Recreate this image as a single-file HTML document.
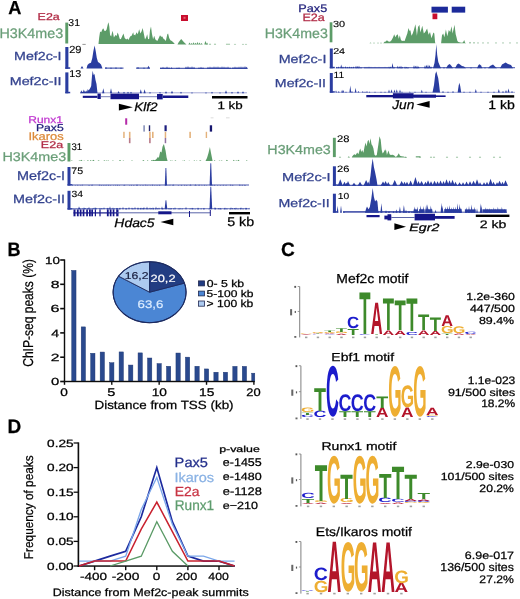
<!DOCTYPE html>
<html><head><meta charset="utf-8"><style>
html,body{margin:0;padding:0;background:#fff;width:520px;height:599px;overflow:hidden}
svg{display:block}
svg text{font-family:"Liberation Sans", sans-serif;text-rendering:geometricPrecision}
</style></head><body>
<svg width="520" height="599" viewBox="0 0 520 599">
<defs><filter id="bl" x="0" y="0" width="520" height="599" filterUnits="userSpaceOnUse"><feGaussianBlur stdDeviation="0.35"/></filter></defs>
<rect width="520" height="599" fill="#fff"/>
<g filter="url(#bl)">
<text x="8.24" y="14.00" font-size="18.84" font-weight="bold" stroke="#000" stroke-width="0.25" fill="#000" textLength="13.16" lengthAdjust="spacingAndGlyphs">A</text>
<text x="37.61" y="19.70" font-size="9.86" stroke="#b02a44" stroke-width="0.25" fill="#b02a44" textLength="22.12" lengthAdjust="spacingAndGlyphs">E2a</text>
<text x="-0.54" y="37.96" font-size="13.80" stroke="#6a9e78" stroke-width="0.25" fill="#6a9e78" textLength="63.65" lengthAdjust="spacingAndGlyphs">H3K4me3</text>
<rect x="65.30" y="22.60" width="2.90" height="20.90" fill="#5c9c68"/>
<text x="68.33" y="26.00" font-size="10.00" stroke="#000000" stroke-width="0.12" fill="#000000" textLength="11.66" lengthAdjust="spacingAndGlyphs">31</text>
<text x="14.06" y="59.78" font-size="11.70" stroke="#34438f" stroke-width="0.25" fill="#34438f" textLength="47.40" lengthAdjust="spacingAndGlyphs">Mef2c-I</text>
<text x="9.76" y="84.69" font-size="11.43" stroke="#34438f" stroke-width="0.25" fill="#34438f" textLength="51.69" lengthAdjust="spacingAndGlyphs">Mef2c-II</text>
<rect x="65.30" y="47.00" width="3.10" height="21.80" fill="#2a3ca0"/>
<rect x="65.30" y="67.30" width="4.90" height="1.50" fill="#2a3ca0"/>
<rect x="65.30" y="72.40" width="3.10" height="20.90" fill="#2a3ca0"/>
<rect x="65.30" y="91.80" width="4.90" height="1.50" fill="#2a3ca0"/>
<text x="69.15" y="52.80" font-size="10.42" stroke="#000000" stroke-width="0.12" fill="#000000" textLength="12.27" lengthAdjust="spacingAndGlyphs">29</text>
<text x="69.39" y="76.80" font-size="9.86" stroke="#000000" stroke-width="0.12" fill="#000000" textLength="11.96" lengthAdjust="spacingAndGlyphs">13</text>
<text x="298.39" y="11.89" font-size="10.86" stroke="#1c1c78" stroke-width="0.25" fill="#1c1c78" textLength="28.81" lengthAdjust="spacingAndGlyphs">Pax5</text>
<text x="302.40" y="21.09" font-size="10.70" stroke="#b02a44" stroke-width="0.25" fill="#b02a44" textLength="22.33" lengthAdjust="spacingAndGlyphs">E2a</text>
<text x="264.66" y="37.86" font-size="13.66" stroke="#6a9e78" stroke-width="0.25" fill="#6a9e78" textLength="63.13" lengthAdjust="spacingAndGlyphs">H3K4me3</text>
<rect x="329.70" y="22.30" width="2.70" height="20.00" fill="#5c9c68"/>
<text x="333.02" y="26.61" font-size="8.73" stroke="#000000" stroke-width="0.12" fill="#000000" textLength="12.19" lengthAdjust="spacingAndGlyphs">30</text>
<text x="278.65" y="62.88" font-size="11.70" stroke="#34438f" stroke-width="0.25" fill="#34438f" textLength="47.72" lengthAdjust="spacingAndGlyphs">Mef2c-I</text>
<text x="274.87" y="86.68" font-size="11.56" stroke="#34438f" stroke-width="0.25" fill="#34438f" textLength="51.16" lengthAdjust="spacingAndGlyphs">Mef2c-II</text>
<rect x="329.80" y="48.50" width="3.00" height="19.80" fill="#2a3ca0"/>
<rect x="329.80" y="66.80" width="5.00" height="1.50" fill="#2a3ca0"/>
<rect x="329.80" y="73.00" width="3.00" height="19.70" fill="#2a3ca0"/>
<rect x="329.80" y="91.20" width="5.00" height="1.50" fill="#2a3ca0"/>
<text x="333.16" y="54.10" font-size="8.43" stroke="#000000" stroke-width="0.12" fill="#000000" textLength="11.93" lengthAdjust="spacingAndGlyphs">24</text>
<text x="333.53" y="78.00" font-size="9.13" stroke="#000000" stroke-width="0.12" fill="#000000" textLength="10.66" lengthAdjust="spacingAndGlyphs">11</text>
<text x="28.24" y="123.40" font-size="9.86" stroke="#c038d0" stroke-width="0.25" fill="#c038d0" textLength="34.71" lengthAdjust="spacingAndGlyphs">Runx1</text>
<text x="35.93" y="131.10" font-size="9.86" stroke="#1c1c78" stroke-width="0.25" fill="#1c1c78" textLength="27.75" lengthAdjust="spacingAndGlyphs">Pax5</text>
<text x="28.44" y="140.39" font-size="11.02" stroke="#dc8a3a" stroke-width="0.25" fill="#dc8a3a" textLength="35.19" lengthAdjust="spacingAndGlyphs">Ikaros</text>
<text x="40.80" y="147.60" font-size="9.72" stroke="#b02a44" stroke-width="0.25" fill="#b02a44" textLength="22.33" lengthAdjust="spacingAndGlyphs">E2a</text>
<text x="2.45" y="160.67" font-size="12.68" stroke="#6a9e78" stroke-width="0.25" fill="#6a9e78" textLength="63.75" lengthAdjust="spacingAndGlyphs">H3K4me3</text>
<rect x="67.50" y="143.00" width="2.90" height="18.50" fill="#5c9c68"/>
<text x="71.46" y="150.10" font-size="9.72" stroke="#000000" stroke-width="0.12" fill="#000000" textLength="10.69" lengthAdjust="spacingAndGlyphs">31</text>
<text x="16.95" y="180.47" font-size="12.65" stroke="#34438f" stroke-width="0.25" fill="#34438f" textLength="48.04" lengthAdjust="spacingAndGlyphs">Mef2c-I</text>
<text x="13.05" y="202.98" font-size="11.84" stroke="#34438f" stroke-width="0.25" fill="#34438f" textLength="51.90" lengthAdjust="spacingAndGlyphs">Mef2c-II</text>
<rect x="67.50" y="167.00" width="3.00" height="18.60" fill="#2a3ca0"/>
<rect x="67.50" y="184.10" width="4.80" height="1.50" fill="#2a3ca0"/>
<rect x="67.50" y="190.80" width="3.00" height="18.80" fill="#2a3ca0"/>
<rect x="67.50" y="208.10" width="4.80" height="1.50" fill="#2a3ca0"/>
<text x="71.27" y="173.90" font-size="9.57" stroke="#000000" stroke-width="0.12" fill="#000000" textLength="11.89" lengthAdjust="spacingAndGlyphs">75</text>
<text x="71.44" y="196.61" font-size="9.01" stroke="#000000" stroke-width="0.12" fill="#000000" textLength="11.55" lengthAdjust="spacingAndGlyphs">34</text>
<text x="267.36" y="154.07" font-size="12.96" stroke="#6a9e78" stroke-width="0.25" fill="#6a9e78" textLength="63.44" lengthAdjust="spacingAndGlyphs">H3K4me3</text>
<rect x="332.90" y="137.80" width="2.90" height="19.30" fill="#5c9c68"/>
<text x="337.14" y="142.00" font-size="9.58" stroke="#000000" stroke-width="0.12" fill="#000000" textLength="12.43" lengthAdjust="spacingAndGlyphs">28</text>
<text x="282.03" y="180.58" font-size="11.56" stroke="#34438f" stroke-width="0.25" fill="#34438f" textLength="48.67" lengthAdjust="spacingAndGlyphs">Mef2c-I</text>
<text x="278.57" y="207.08" font-size="11.56" stroke="#34438f" stroke-width="0.25" fill="#34438f" textLength="51.16" lengthAdjust="spacingAndGlyphs">Mef2c-II</text>
<rect x="332.90" y="166.30" width="3.00" height="19.50" fill="#2a3ca0"/>
<rect x="332.90" y="184.30" width="4.90" height="1.50" fill="#2a3ca0"/>
<rect x="332.90" y="193.70" width="3.00" height="19.00" fill="#2a3ca0"/>
<rect x="332.90" y="211.20" width="4.90" height="1.50" fill="#2a3ca0"/>
<text x="337.14" y="172.41" font-size="9.30" stroke="#000000" stroke-width="0.12" fill="#000000" textLength="12.43" lengthAdjust="spacingAndGlyphs">26</text>
<text x="337.83" y="198.61" font-size="8.73" stroke="#000000" stroke-width="0.12" fill="#000000" textLength="11.46" lengthAdjust="spacingAndGlyphs">10</text>
<path d="M98.5,44.0 L98.5,43.8 L99.2,37.2 L100.1,31.5 L101.2,32.2 L102.0,30.3 L102.8,28.8 L103.5,28.4 L104.3,30.7 L105.5,31.1 L106.6,29.5 L107.8,24.2 L108.5,22.2 L109.3,26.5 L110.1,34.9 L111.2,36.5 L112.4,30.7 L113.2,33.4 L113.9,37.6 L115.5,34.9 L116.6,36.1 L117.6,32.6 L118.5,34.5 L119.7,38.8 L120.8,39.2 L122.4,35.7 L123.5,33.4 L124.7,38.0 L126.2,39.5 L127.4,38.4 L128.5,39.9 L130.1,36.5 L131.6,35.7 L133.2,32.2 L133.9,35.3 L135.5,34.5 L135.0,36.5 L136.5,32.2 L137.7,34.2 L139.2,29.2 L140.4,33.4 L141.5,31.5 L142.7,28.0 L143.8,33.4 L145.0,39.5 L146.2,37.2 L147.2,34.2 L148.1,39.2 L149.2,38.8 L150.0,30.3 L151.0,26.5 L151.9,33.4 L153.1,39.2 L154.2,35.7 L155.4,39.5 L157.3,41.1 L158.8,38.0 L160.0,35.3 L161.2,36.8 L162.3,36.5 L163.5,38.8 L164.6,39.5 L165.8,41.1 L167.3,34.2 L168.1,33.4 L169.2,38.0 L170.4,40.3 L171.9,41.1 L173.5,42.6 L174.6,43.8 L174.6,44.0 Z" fill="#5c9c68"/>
<path d="M177.5,44.6 L177.5,44.6 L178.5,42.5 L180.0,40.5 L181.2,39.0 L182.5,40.5 L184.0,42.3 L186.5,44.6 L186.5,44.6 Z" fill="#5c9c68"/>
<path d="M188.3,44.6 L189.5,42.6 L190.7,44.6 Z" fill="#5c9c68"/><path d="M190.3,44.6 L191.5,43.0 L192.7,44.6 Z" fill="#5c9c68"/><path d="M192.3,44.6 L193.5,42.3 L194.7,44.6 Z" fill="#5c9c68"/><path d="M194.3,44.6 L195.5,42.8 L196.7,44.6 Z" fill="#5c9c68"/><path d="M196.3,44.6 L197.5,42.1 L198.7,44.6 Z" fill="#5c9c68"/><path d="M198.3,44.6 L199.5,42.6 L200.7,44.6 Z" fill="#5c9c68"/><path d="M200.3,44.6 L201.5,43.1 L202.7,44.6 Z" fill="#5c9c68"/><path d="M204.3,44.6 L205.5,40.8 L206.7,44.6 Z" fill="#5c9c68"/><path d="M205.8,44.6 L207.0,42.6 L208.2,44.6 Z" fill="#5c9c68"/><path d="M208.8,44.6 L210.0,43.4 L211.2,44.6 Z" fill="#5c9c68"/><path d="M213.8,44.6 L215.0,43.4 L216.2,44.6 Z" fill="#5c9c68"/><path d="M225.8,44.6 L227.0,43.6 L228.2,44.6 Z" fill="#5c9c68"/><path d="M227.8,44.6 L229.0,43.6 L230.2,44.6 Z" fill="#5c9c68"/><path d="M233.8,44.6 L235.0,43.8 L236.2,44.6 Z" fill="#5c9c68"/><path d="M241.8,44.6 L243.0,43.7 L244.2,44.6 Z" fill="#5c9c68"/><path d="M244.8,44.6 L246.0,43.7 L247.2,44.6 Z" fill="#5c9c68"/>
<path d="M80.5,68.6 L82.0,66.1 L83.5,68.6 Z" fill="#2a3ca0"/>
<path d="M86.5,68.6 L86.5,68.6 L87.5,65.0 L89.0,63.5 L91.0,62.8 L92.3,58.0 L93.4,51.0 L94.6,45.5 L95.7,51.0 L96.8,58.0 L98.0,62.0 L99.5,63.0 L101.0,64.5 L102.5,68.6 L102.5,68.6 Z" fill="#2a3ca0"/>
<rect x="105.0" y="67.60" width="18.5" height="1.0" fill="#2a3ca0" opacity="1.0"/>
<path d="M104.8,68.6 L106.0,67.1 L107.2,68.6 Z" fill="#2a3ca0"/><path d="M109.8,68.6 L111.0,67.4 L112.2,68.6 Z" fill="#2a3ca0"/><path d="M114.8,68.6 L116.0,67.2 L117.2,68.6 Z" fill="#2a3ca0"/><path d="M119.8,68.6 L121.0,67.4 L122.2,68.6 Z" fill="#2a3ca0"/>
<rect x="136.0" y="67.60" width="14.0" height="1.0" fill="#2a3ca0" opacity="1.0"/>
<path d="M136.7,68.6 L138.0,67.1 L139.3,68.6 Z" fill="#2a3ca0"/><path d="M142.7,68.6 L144.0,67.4 L145.3,68.6 Z" fill="#2a3ca0"/><path d="M147.2,68.6 L148.5,65.8 L149.8,68.6 Z" fill="#2a3ca0"/>
<rect x="160.0" y="67.80" width="87.5" height="1.0" fill="#2a3ca0" opacity="1.0"/>
<path d="M159.9,68.8 L161.0,67.3 L162.1,68.8 Z" fill="#2a3ca0"/><path d="M161.9,68.8 L163.0,66.8 L164.1,68.8 Z" fill="#2a3ca0"/><path d="M163.9,68.8 L165.0,67.3 L166.1,68.8 Z" fill="#2a3ca0"/><path d="M165.9,68.8 L167.0,66.6 L168.1,68.8 Z" fill="#2a3ca0"/><path d="M167.9,68.8 L169.0,67.2 L170.1,68.8 Z" fill="#2a3ca0"/><path d="M170.4,68.8 L171.5,67.3 L172.6,68.8 Z" fill="#2a3ca0"/><path d="M175.9,68.8 L177.0,67.6 L178.1,68.8 Z" fill="#2a3ca0"/><path d="M177.9,68.8 L179.0,67.3 L180.1,68.8 Z" fill="#2a3ca0"/><path d="M184.9,68.8 L186.0,66.6 L187.1,68.8 Z" fill="#2a3ca0"/><path d="M186.9,68.8 L188.0,66.0 L189.1,68.8 Z" fill="#2a3ca0"/><path d="M188.9,68.8 L190.0,66.8 L191.1,68.8 Z" fill="#2a3ca0"/><path d="M190.9,68.8 L192.0,66.2 L193.1,68.8 Z" fill="#2a3ca0"/><path d="M192.9,68.8 L194.0,66.8 L195.1,68.8 Z" fill="#2a3ca0"/><path d="M197.9,68.8 L199.0,67.3 L200.1,68.8 Z" fill="#2a3ca0"/><path d="M199.9,68.8 L201.0,66.8 L202.1,68.8 Z" fill="#2a3ca0"/><path d="M201.9,68.8 L203.0,67.3 L204.1,68.8 Z" fill="#2a3ca0"/><path d="M206.9,68.8 L208.0,66.8 L209.1,68.8 Z" fill="#2a3ca0"/><path d="M208.9,68.8 L210.0,66.4 L211.1,68.8 Z" fill="#2a3ca0"/><path d="M210.9,68.8 L212.0,66.8 L213.1,68.8 Z" fill="#2a3ca0"/><path d="M212.9,68.8 L214.0,66.2 L215.1,68.8 Z" fill="#2a3ca0"/><path d="M214.9,68.8 L216.0,66.6 L217.1,68.8 Z" fill="#2a3ca0"/><path d="M216.9,68.8 L218.0,66.3 L219.1,68.8 Z" fill="#2a3ca0"/><path d="M218.9,68.8 L220.0,66.8 L221.1,68.8 Z" fill="#2a3ca0"/><path d="M220.9,68.8 L222.0,66.2 L223.1,68.8 Z" fill="#2a3ca0"/><path d="M222.9,68.8 L224.0,66.4 L225.1,68.8 Z" fill="#2a3ca0"/><path d="M224.9,68.8 L226.0,66.8 L227.1,68.8 Z" fill="#2a3ca0"/><path d="M226.9,68.8 L228.0,66.5 L229.1,68.8 Z" fill="#2a3ca0"/><path d="M228.9,68.8 L230.0,67.2 L231.1,68.8 Z" fill="#2a3ca0"/><path d="M231.9,68.8 L233.0,67.0 L234.1,68.8 Z" fill="#2a3ca0"/><path d="M233.9,68.8 L235.0,66.4 L236.1,68.8 Z" fill="#2a3ca0"/><path d="M235.9,68.8 L237.0,66.8 L238.1,68.8 Z" fill="#2a3ca0"/><path d="M237.9,68.8 L239.0,66.6 L240.1,68.8 Z" fill="#2a3ca0"/><path d="M239.9,68.8 L241.0,66.2 L242.1,68.8 Z" fill="#2a3ca0"/><path d="M241.9,68.8 L243.0,66.6 L244.1,68.8 Z" fill="#2a3ca0"/><path d="M243.9,68.8 L245.0,66.0 L246.1,68.8 Z" fill="#2a3ca0"/><path d="M245.4,68.8 L246.5,66.8 L247.6,68.8 Z" fill="#2a3ca0"/>
<path d="M80.2,93.2 L80.2,93.2 L80.8,91.5 L81.4,90.2 L82.0,91.8 L83.0,92.0 L83.8,89.6 L84.6,91.5 L85.5,91.8 L86.3,90.6 L87.0,92.0 L87.8,89.0 L88.6,90.5 L89.5,89.2 L90.3,88.0 L91.2,86.0 L92.0,76.0 L92.7,70.8 L93.6,75.0 L94.5,74.0 L95.5,80.0 L96.5,84.0 L97.5,93.2 L97.5,93.2 Z" fill="#2a3ca0"/>
<path d="M102.2,93.2 L103.3,88.2 L104.4,93.2 Z" fill="#2a3ca0"/><path d="M109.9,93.2 L111.0,88.2 L112.1,93.2 Z" fill="#2a3ca0"/><path d="M117.5,93.2 L118.6,91.0 L119.7,93.2 Z" fill="#2a3ca0"/><path d="M122.9,93.2 L124.0,91.7 L125.1,93.2 Z" fill="#2a3ca0"/><path d="M126.9,93.2 L128.0,91.7 L129.1,93.2 Z" fill="#2a3ca0"/><path d="M129.9,93.2 L131.0,91.7 L132.1,93.2 Z" fill="#2a3ca0"/><path d="M139.7,93.2 L140.8,89.2 L141.9,93.2 Z" fill="#2a3ca0"/><path d="M143.5,93.2 L144.6,89.2 L145.7,93.2 Z" fill="#2a3ca0"/><path d="M148.9,93.2 L150.0,92.0 L151.1,93.2 Z" fill="#2a3ca0"/><path d="M158.9,93.2 L160.0,92.0 L161.1,93.2 Z" fill="#2a3ca0"/><path d="M164.9,93.2 L166.0,91.2 L167.1,93.2 Z" fill="#2a3ca0"/><path d="M170.9,93.2 L172.0,90.7 L173.1,93.2 Z" fill="#2a3ca0"/><path d="M179.9,93.2 L181.0,91.7 L182.1,93.2 Z" fill="#2a3ca0"/><path d="M190.9,93.2 L192.0,92.2 L193.1,93.2 Z" fill="#2a3ca0"/><path d="M204.9,93.2 L206.0,92.2 L207.1,93.2 Z" fill="#2a3ca0"/><path d="M210.9,93.2 L212.0,91.7 L213.1,93.2 Z" fill="#2a3ca0"/><path d="M218.9,93.2 L220.0,92.2 L221.1,93.2 Z" fill="#2a3ca0"/><path d="M224.9,93.2 L226.0,90.2 L227.1,93.2 Z" fill="#2a3ca0"/><path d="M230.9,93.2 L232.0,91.7 L233.1,93.2 Z" fill="#2a3ca0"/><path d="M236.9,93.2 L238.0,91.2 L239.1,93.2 Z" fill="#2a3ca0"/><path d="M241.9,93.2 L243.0,91.2 L244.1,93.2 Z" fill="#2a3ca0"/>
<rect x="80.0" y="92.50" width="167.0" height="0.7" fill="#2a3ca0" opacity="0.6"/>
<path d="M383.1,43.3 L383.1,43.4 L384.6,41.8 L385.8,41.5 L386.9,40.3 L388.5,41.5 L390.0,41.8 L391.5,40.3 L393.1,37.2 L394.2,34.2 L395.4,37.2 L396.5,35.3 L397.7,34.2 L398.8,38.8 L399.8,35.3 L400.8,39.5 L401.9,41.1 L403.1,40.7 L404.6,41.1 L406.2,36.5 L407.3,33.4 L408.5,28.0 L409.6,31.1 L410.4,30.3 L411.5,35.7 L412.7,33.4 L413.8,30.3 L415.4,24.2 L416.2,29.5 L416.9,35.7 L418.1,26.5 L419.2,25.7 L418.0,27.6 L419.4,24.7 L420.4,32.4 L422.3,25.7 L423.8,33.4 L425.2,31.9 L427.1,28.6 L428.6,34.8 L430.0,31.9 L431.5,38.2 L433.4,32.4 L434.3,33.4 L435.1,42.5 L435.5,43.2 L435.5,43.3 Z" fill="#5c9c68"/>
<path d="M441.1,43.3 L441.1,43.2 L442.0,35.3 L443.2,33.4 L444.4,37.2 L445.9,29.5 L447.3,36.3 L448.8,30.0 L450.2,31.9 L451.5,26.2 L452.6,33.4 L454.5,24.7 L455.7,34.3 L456.5,37.2 L457.4,41.1 L458.4,42.0 L460.3,42.5 L462.2,42.8 L463.2,42.0 L464.2,40.1 L465.1,42.8 L466.1,43.2 L466.1,43.3 Z" fill="#5c9c68"/>
<path d="M369.5,43.3 L370.5,42.4 L371.5,43.3 Z" fill="#5c9c68"/><path d="M373.0,43.3 L374.0,42.4 L375.0,43.3 Z" fill="#5c9c68"/><path d="M377.0,43.3 L378.0,42.4 L379.0,43.3 Z" fill="#5c9c68"/><path d="M380.0,43.3 L381.0,42.4 L382.0,43.3 Z" fill="#5c9c68"/><path d="M469.0,43.3 L470.0,41.8 L471.0,43.3 Z" fill="#5c9c68"/><path d="M473.0,43.3 L474.0,42.1 L475.0,43.3 Z" fill="#5c9c68"/><path d="M477.0,43.3 L478.0,42.3 L479.0,43.3 Z" fill="#5c9c68"/><path d="M482.0,43.3 L483.0,42.3 L484.0,43.3 Z" fill="#5c9c68"/><path d="M487.0,43.3 L488.0,42.3 L489.0,43.3 Z" fill="#5c9c68"/><path d="M495.0,43.3 L496.0,42.3 L497.0,43.3 Z" fill="#5c9c68"/><path d="M502.0,43.3 L503.0,42.3 L504.0,43.3 Z" fill="#5c9c68"/><path d="M509.0,43.3 L510.0,42.3 L511.0,43.3 Z" fill="#5c9c68"/><path d="M516.0,43.3 L517.0,42.3 L518.0,43.3 Z" fill="#5c9c68"/>
<rect x="336.0" y="67.30" width="179.0" height="0.9" fill="#2a3ca0" opacity="1.0"/>
<path d="M335.5,68.2 L336.5,66.7 L337.5,68.2 Z" fill="#2a3ca0"/><path d="M337.5,68.2 L338.5,66.4 L339.5,68.2 Z" fill="#2a3ca0"/><path d="M340.2,68.2 L341.2,64.4 L342.2,68.2 Z" fill="#2a3ca0"/><path d="M342.0,68.2 L343.0,66.4 L344.0,68.2 Z" fill="#2a3ca0"/><path d="M344.5,68.2 L345.5,66.2 L346.5,68.2 Z" fill="#2a3ca0"/><path d="M346.5,68.2 L347.5,66.7 L348.5,68.2 Z" fill="#2a3ca0"/><path d="M348.5,68.2 L349.5,66.4 L350.5,68.2 Z" fill="#2a3ca0"/><path d="M350.5,68.2 L351.5,66.7 L352.5,68.2 Z" fill="#2a3ca0"/><path d="M352.5,68.2 L353.5,66.6 L354.5,68.2 Z" fill="#2a3ca0"/><path d="M355.0,68.2 L356.0,65.7 L357.0,68.2 Z" fill="#2a3ca0"/><path d="M356.5,68.2 L357.5,66.0 L358.5,68.2 Z" fill="#2a3ca0"/><path d="M358.0,68.2 L359.0,65.7 L360.0,68.2 Z" fill="#2a3ca0"/><path d="M360.0,68.2 L361.0,67.0 L362.0,68.2 Z" fill="#2a3ca0"/><path d="M364.0,68.2 L365.0,66.7 L366.0,68.2 Z" fill="#2a3ca0"/><path d="M366.0,68.2 L367.0,66.7 L368.0,68.2 Z" fill="#2a3ca0"/><path d="M368.0,68.2 L369.0,66.6 L370.0,68.2 Z" fill="#2a3ca0"/><path d="M370.0,68.2 L371.0,66.7 L372.0,68.2 Z" fill="#2a3ca0"/><path d="M372.0,68.2 L373.0,66.9 L374.0,68.2 Z" fill="#2a3ca0"/><path d="M374.0,68.2 L375.0,66.7 L376.0,68.2 Z" fill="#2a3ca0"/><path d="M376.0,68.2 L377.0,67.0 L378.0,68.2 Z" fill="#2a3ca0"/><path d="M378.0,68.2 L379.0,66.8 L380.0,68.2 Z" fill="#2a3ca0"/><path d="M380.0,68.2 L381.0,67.0 L382.0,68.2 Z" fill="#2a3ca0"/><path d="M382.0,68.2 L383.0,66.9 L384.0,68.2 Z" fill="#2a3ca0"/><path d="M384.0,68.2 L385.0,66.7 L386.0,68.2 Z" fill="#2a3ca0"/><path d="M386.0,68.2 L387.0,67.0 L388.0,68.2 Z" fill="#2a3ca0"/><path d="M388.0,68.2 L389.0,66.6 L390.0,68.2 Z" fill="#2a3ca0"/><path d="M389.5,68.2 L390.5,66.4 L391.5,68.2 Z" fill="#2a3ca0"/><path d="M391.5,68.2 L392.5,62.9 L393.5,68.2 Z" fill="#2a3ca0"/><path d="M393.0,68.2 L394.0,66.8 L395.0,68.2 Z" fill="#2a3ca0"/><path d="M396.8,68.2 L397.8,65.7 L398.8,68.2 Z" fill="#2a3ca0"/><path d="M398.5,68.2 L399.5,66.2 L400.5,68.2 Z" fill="#2a3ca0"/><path d="M400.0,68.2 L401.0,65.7 L402.0,68.2 Z" fill="#2a3ca0"/><path d="M401.3,68.2 L402.3,66.7 L403.3,68.2 Z" fill="#2a3ca0"/><path d="M404.0,68.2 L405.0,66.4 L406.0,68.2 Z" fill="#2a3ca0"/><path d="M405.5,68.2 L406.5,66.7 L407.5,68.2 Z" fill="#2a3ca0"/><path d="M407.0,68.2 L408.0,67.0 L409.0,68.2 Z" fill="#2a3ca0"/><path d="M413.0,68.2 L414.0,65.2 L415.0,68.2 Z" fill="#2a3ca0"/><path d="M414.5,68.2 L415.5,65.7 L416.5,68.2 Z" fill="#2a3ca0"/><path d="M416.0,68.2 L417.0,65.4 L418.0,68.2 Z" fill="#2a3ca0"/><path d="M417.5,68.2 L418.5,66.2 L419.5,68.2 Z" fill="#2a3ca0"/><path d="M424.0,68.2 L425.0,65.2 L426.0,68.2 Z" fill="#2a3ca0"/><path d="M425.5,68.2 L426.5,64.8 L427.5,68.2 Z" fill="#2a3ca0"/><path d="M427.0,68.2 L428.0,64.4 L429.0,68.2 Z" fill="#2a3ca0"/><path d="M428.5,68.2 L429.5,65.0 L430.5,68.2 Z" fill="#2a3ca0"/><path d="M430.0,68.2 L431.0,66.2 L432.0,68.2 Z" fill="#2a3ca0"/>
<path d="M433.0,68.2 L433.0,68.2 L434.5,63.0 L435.5,55.0 L436.3,44.2 L437.2,55.0 L438.3,62.0 L439.5,65.0 L441.0,68.2 L441.0,68.2 Z" fill="#2a3ca0"/>
<path d="M446.0,68.2 L446.0,68.2 L448.0,65.0 L449.8,64.0 L451.5,66.0 L453.0,68.2 L453.0,68.2 Z" fill="#2a3ca0"/>
<path d="M455.0,68.2 L455.0,68.2 L457.0,64.5 L458.5,63.4 L460.0,64.5 L462.0,66.0 L464.0,66.5 L466.0,68.2 L466.0,68.2 Z" fill="#2a3ca0"/>
<path d="M477.0,68.2 L477.0,68.2 L478.5,65.0 L479.6,64.3 L481.0,65.5 L482.5,68.2 L482.5,68.2 Z" fill="#2a3ca0"/>
<path d="M488.0,68.2 L488.0,68.2 L490.0,66.0 L493.0,64.5 L495.0,66.5 L497.0,68.2 L497.0,68.2 Z" fill="#2a3ca0"/>
<path d="M500.0,68.2 L500.0,68.2 L502.0,64.5 L505.6,62.5 L508.0,64.0 L511.0,65.0 L513.0,68.2 L513.0,68.2 Z" fill="#2a3ca0"/>
<path d="M443.0,68.2 L444.0,67.0 L445.0,68.2 Z" fill="#2a3ca0"/><path d="M470.0,68.2 L471.0,67.2 L472.0,68.2 Z" fill="#2a3ca0"/><path d="M484.0,68.2 L485.0,67.2 L486.0,68.2 Z" fill="#2a3ca0"/>
<path d="M335.1,92.6 L336.0,90.6 L336.9,92.6 Z" fill="#2a3ca0"/><path d="M337.9,92.6 L338.8,91.1 L339.7,92.6 Z" fill="#2a3ca0"/><path d="M341.2,92.6 L342.1,89.7 L343.0,92.6 Z" fill="#2a3ca0"/><path d="M342.4,92.6 L343.3,90.1 L344.2,92.6 Z" fill="#2a3ca0"/><path d="M345.1,92.6 L346.0,91.4 L346.9,92.6 Z" fill="#2a3ca0"/><path d="M349.4,92.6 L350.3,85.4 L351.2,92.6 Z" fill="#2a3ca0"/><path d="M351.1,92.6 L352.0,91.1 L352.9,92.6 Z" fill="#2a3ca0"/><path d="M354.7,92.6 L355.6,87.8 L356.5,92.6 Z" fill="#2a3ca0"/><path d="M357.6,92.6 L358.5,91.1 L359.4,92.6 Z" fill="#2a3ca0"/><path d="M361.9,92.6 L362.8,91.1 L363.7,92.6 Z" fill="#2a3ca0"/><path d="M364.1,92.6 L365.0,91.4 L365.9,92.6 Z" fill="#2a3ca0"/><path d="M366.1,92.6 L367.0,91.1 L367.9,92.6 Z" fill="#2a3ca0"/><path d="M368.6,92.6 L369.5,91.4 L370.4,92.6 Z" fill="#2a3ca0"/><path d="M374.1,92.6 L375.0,91.6 L375.9,92.6 Z" fill="#2a3ca0"/><path d="M380.1,92.6 L381.0,91.6 L381.9,92.6 Z" fill="#2a3ca0"/><path d="M384.1,92.6 L385.0,91.4 L385.9,92.6 Z" fill="#2a3ca0"/><path d="M388.1,92.6 L389.0,89.6 L389.9,92.6 Z" fill="#2a3ca0"/><path d="M390.6,92.6 L391.5,89.3 L392.4,92.6 Z" fill="#2a3ca0"/><path d="M393.6,92.6 L394.5,89.6 L395.4,92.6 Z" fill="#2a3ca0"/><path d="M395.9,92.6 L396.8,89.3 L397.7,92.6 Z" fill="#2a3ca0"/><path d="M399.1,92.6 L400.0,89.6 L400.9,92.6 Z" fill="#2a3ca0"/><path d="M401.1,92.6 L402.0,91.4 L402.9,92.6 Z" fill="#2a3ca0"/><path d="M408.9,92.6 L409.8,91.4 L410.7,92.6 Z" fill="#2a3ca0"/><path d="M414.1,92.6 L415.0,91.6 L415.9,92.6 Z" fill="#2a3ca0"/><path d="M420.9,92.6 L421.8,89.7 L422.7,92.6 Z" fill="#2a3ca0"/><path d="M425.1,92.6 L426.0,91.6 L426.9,92.6 Z" fill="#2a3ca0"/>
<path d="M432.5,92.6 L432.5,92.6 L434.0,85.0 L435.3,74.0 L436.3,71.2 L437.3,75.0 L438.2,78.0 L439.0,84.0 L440.0,92.6 L440.0,92.6 Z" fill="#2a3ca0"/>
<path d="M457.6,92.6 L457.6,92.6 L458.6,86.0 L459.4,82.7 L460.2,86.0 L461.2,92.6 L461.2,92.6 Z" fill="#2a3ca0"/>
<path d="M442.0,92.6 L443.0,91.1 L444.0,92.6 Z" fill="#2a3ca0"/><path d="M447.0,92.6 L448.0,91.4 L449.0,92.6 Z" fill="#2a3ca0"/><path d="M452.0,92.6 L453.0,91.1 L454.0,92.6 Z" fill="#2a3ca0"/><path d="M463.0,92.6 L464.0,91.6 L465.0,92.6 Z" fill="#2a3ca0"/><path d="M469.0,92.6 L470.0,91.6 L471.0,92.6 Z" fill="#2a3ca0"/><path d="M474.8,92.6 L475.8,89.1 L476.8,92.6 Z" fill="#2a3ca0"/><path d="M480.0,92.6 L481.0,91.6 L482.0,92.6 Z" fill="#2a3ca0"/><path d="M487.0,92.6 L488.0,91.6 L489.0,92.6 Z" fill="#2a3ca0"/><path d="M493.0,92.6 L494.0,91.6 L495.0,92.6 Z" fill="#2a3ca0"/><path d="M497.8,92.6 L498.8,89.1 L499.8,92.6 Z" fill="#2a3ca0"/><path d="M502.0,92.6 L503.0,91.1 L504.0,92.6 Z" fill="#2a3ca0"/><path d="M505.0,92.6 L506.0,90.1 L507.0,92.6 Z" fill="#2a3ca0"/><path d="M507.5,92.6 L508.5,88.6 L509.5,92.6 Z" fill="#2a3ca0"/><path d="M511.0,92.6 L512.0,91.1 L513.0,92.6 Z" fill="#2a3ca0"/>
<rect x="336.0" y="91.90" width="179.0" height="0.7" fill="#2a3ca0" opacity="0.6"/>
<path d="M71.0,161.0 L71.8,160.2 L72.7,161.0 Z M78.7,161.0 L79.2,160.0 L79.8,161.0 Z M80.0,161.0 L81.3,159.8 L82.5,161.0 Z M83.5,161.0 L84.1,160.6 L84.8,161.0 Z M87.1,161.0 L87.9,159.9 L88.8,161.0 Z M89.8,161.0 L90.7,160.1 L91.6,161.0 Z M92.1,161.0 L93.4,159.8 L94.6,161.0 Z M97.5,161.0 L98.6,160.3 L99.7,161.0 Z M103.3,161.0 L104.4,160.2 L105.6,161.0 Z M106.3,161.0 L106.9,160.1 L107.5,161.0 Z M108.0,161.0 L108.6,160.3 L109.1,161.0 Z M111.8,161.0 L112.9,160.5 L114.0,161.0 Z M118.8,161.0 L120.0,160.0 L121.3,161.0 Z M122.6,161.0 L123.3,160.3 L123.9,161.0 Z M131.2,161.0 L132.0,160.2 L132.8,161.0 Z M142.2,161.0 L143.4,160.1 L144.5,161.0 Z M147.1,161.0 L147.7,159.9 L148.4,161.0 Z M150.8,161.0 L151.7,159.9 L152.6,161.0 Z " fill="#5c9c68"/>
<path d="M152.0,161.0 L152.0,161.0 L153.0,159.8 L154.5,160.2 L156.0,159.5 L157.2,158.0 L158.0,156.8 L158.8,158.0 L159.5,154.8 L160.2,151.5 L161.5,152.5 L162.5,146.7 L163.9,144.0 L164.9,148.0 L165.6,150.8 L166.6,157.5 L167.6,161.0 L167.6,161.0 Z" fill="#5c9c68"/>
<path d="M205.5,161.0 L205.5,161.0 L207.0,158.0 L208.5,153.0 L209.9,147.1 L211.0,153.0 L212.6,161.0 L212.6,161.0 Z" fill="#5c9c68"/>
<path d="M170.0,161.0 L170.9,160.2 L171.7,161.0 Z M172.1,161.0 L172.6,160.4 L173.1,161.0 Z M174.4,161.0 L175.4,160.2 L176.4,161.0 Z M182.2,161.0 L183.0,160.4 L183.7,161.0 Z M184.0,161.0 L184.5,160.1 L185.1,161.0 Z M188.6,161.0 L189.2,160.4 L189.8,161.0 Z M193.5,161.0 L194.3,160.3 L195.1,161.0 Z M196.0,161.0 L196.7,160.6 L197.5,161.0 Z M199.0,161.0 L200.2,160.2 L201.5,161.0 Z " fill="#5c9c68"/>
<path d="M214.0,161.0 L214.7,159.9 L215.4,161.0 Z M218.5,161.0 L219.5,160.5 L220.6,161.0 Z M221.0,161.0 L221.8,160.2 L222.5,161.0 Z M225.8,161.0 L226.9,159.8 L228.0,161.0 Z M232.9,161.0 L233.8,159.8 L234.7,161.0 Z M235.4,161.0 L236.2,160.2 L237.0,161.0 Z M237.3,161.0 L238.4,159.8 L239.6,161.0 Z M246.1,161.0 L246.8,160.1 L247.5,161.0 Z " fill="#5c9c68"/>
<rect x="72.0" y="184.50" width="177.0" height="1.0" fill="#2a3ca0" opacity="0.85"/>
<path d="M72.0,185.5 L72.6,184.7 L73.2,185.5 Z M74.6,185.5 L75.3,184.9 L76.0,185.5 Z M77.0,185.5 L77.8,184.7 L78.5,185.5 Z M79.7,185.5 L80.3,185.0 L80.9,185.5 Z M81.6,185.5 L82.2,184.6 L82.9,185.5 Z M87.9,185.5 L89.1,184.9 L90.3,185.5 Z M91.1,185.5 L92.1,184.6 L93.0,185.5 Z M98.7,185.5 L99.3,184.6 L100.0,185.5 Z M100.3,185.5 L101.4,185.0 L102.6,185.5 Z M102.8,185.5 L103.8,185.0 L104.9,185.5 Z M105.2,185.5 L106.1,184.7 L106.9,185.5 Z M107.7,185.5 L108.6,184.8 L109.5,185.5 Z M109.8,185.5 L110.6,185.0 L111.5,185.5 Z M112.9,185.5 L113.5,185.0 L114.0,185.5 Z M115.0,185.5 L115.5,184.7 L116.0,185.5 Z M116.7,185.5 L117.5,184.8 L118.3,185.5 Z M118.8,185.5 L119.5,185.0 L120.3,185.5 Z M123.1,185.5 L124.3,184.7 L125.5,185.5 Z M128.9,185.5 L129.5,185.0 L130.2,185.5 Z M130.7,185.5 L131.4,184.7 L132.1,185.5 Z M132.7,185.5 L133.7,184.9 L134.8,185.5 Z M135.8,185.5 L137.0,184.6 L138.2,185.5 Z M139.5,185.5 L140.3,184.9 L141.0,185.5 Z M142.0,185.5 L143.0,184.9 L144.1,185.5 Z M145.1,185.5 L145.8,184.5 L146.5,185.5 Z M147.1,185.5 L147.8,185.0 L148.5,185.5 Z M149.6,185.5 L150.2,184.9 L150.8,185.5 Z M151.7,185.5 L152.5,184.6 L153.3,185.5 Z M154.0,185.5 L154.8,185.0 L155.6,185.5 Z M156.0,185.5 L157.1,185.0 L158.1,185.5 Z M158.6,185.5 L159.6,184.7 L160.6,185.5 Z M164.7,185.5 L165.4,184.8 L166.1,185.5 Z M167.4,185.5 L168.0,184.7 L168.5,185.5 Z M169.4,185.5 L170.0,184.6 L170.5,185.5 Z M172.0,185.5 L173.2,184.6 L174.3,185.5 Z M177.5,185.5 L178.4,185.1 L179.4,185.5 Z M180.6,185.5 L181.5,184.8 L182.4,185.5 Z M183.8,185.5 L184.5,184.7 L185.2,185.5 Z M185.4,185.5 L186.6,185.0 L187.9,185.5 Z M189.3,185.5 L190.5,184.6 L191.6,185.5 Z M194.3,185.5 L195.5,184.6 L196.8,185.5 Z M198.2,185.5 L199.1,184.6 L200.0,185.5 Z M201.4,185.5 L201.9,184.8 L202.5,185.5 Z M203.7,185.5 L204.5,184.7 L205.3,185.5 Z M206.1,185.5 L206.7,185.1 L207.4,185.5 Z M210.3,185.5 L210.9,184.9 L211.6,185.5 Z M212.1,185.5 L212.7,184.6 L213.3,185.5 Z M213.5,185.5 L214.5,184.7 L215.5,185.5 Z M216.7,185.5 L217.6,185.0 L218.4,185.5 Z M219.4,185.5 L220.4,185.0 L221.4,185.5 Z M222.5,185.5 L223.3,184.7 L224.1,185.5 Z M225.3,185.5 L226.1,184.8 L226.8,185.5 Z M230.0,185.5 L230.7,184.6 L231.4,185.5 Z M231.8,185.5 L232.7,184.7 L233.6,185.5 Z M238.8,185.5 L239.8,184.6 L240.7,185.5 Z M241.4,185.5 L242.3,184.7 L243.1,185.5 Z M243.8,185.5 L244.9,184.8 L246.1,185.5 Z " fill="#2a3ca0"/>
<path d="M164.8,185.5 L165.5,168 L166.3,168 L167,185.5 Z" fill="#2a3ca0"/>
<path d="M209.6,185.5 L210.4,163.3 L211.2,163.3 L212,185.5 Z" fill="#2a3ca0"/>
<rect x="72.0" y="208.20" width="177.0" height="1.0" fill="#2a3ca0" opacity="0.7"/>
<path d="M72.0,209.2 L73.2,208.8 L74.4,209.2 Z M74.9,209.2 L76.1,208.8 L77.3,209.2 Z M78.4,209.2 L79.6,207.6 L80.7,209.2 Z M81.3,209.2 L82.4,208.5 L83.4,209.2 Z M83.9,209.2 L85.0,207.8 L86.2,209.2 Z M86.7,209.2 L87.9,208.2 L89.1,209.2 Z M89.9,209.2 L90.7,208.7 L91.5,209.2 Z M92.2,209.2 L93.1,207.7 L94.0,209.2 Z M94.7,209.2 L95.9,207.6 L97.0,209.2 Z M100.9,209.2 L101.9,207.9 L102.9,209.2 Z M106.4,209.2 L107.2,207.8 L108.1,209.2 Z M108.8,209.2 L109.7,208.6 L110.6,209.2 Z M111.2,209.2 L111.9,208.4 L112.6,209.2 Z M113.2,209.2 L114.4,208.4 L115.5,209.2 Z M115.8,209.2 L117.0,207.8 L118.2,209.2 Z M118.6,209.2 L119.4,208.3 L120.3,209.2 Z M125.2,209.2 L126.4,208.6 L127.6,209.2 Z M132.2,209.2 L133.1,208.2 L134.0,209.2 Z M137.2,209.2 L138.0,208.0 L138.7,209.2 Z M139.4,209.2 L140.4,208.0 L141.3,209.2 Z M141.9,209.2 L143.1,207.8 L144.2,209.2 Z M145.5,209.2 L146.0,208.0 L146.5,209.2 Z M147.3,209.2 L148.1,208.6 L149.0,209.2 Z M150.5,209.2 L151.3,207.7 L152.0,209.2 Z M152.6,209.2 L153.4,208.1 L154.1,209.2 Z M154.7,209.2 L155.3,208.6 L155.8,209.2 Z M157.0,209.2 L157.6,207.8 L158.1,209.2 Z M161.8,209.2 L162.8,208.1 L163.9,209.2 Z M168.1,209.2 L168.7,208.0 L169.3,209.2 Z M170.3,209.2 L171.3,208.1 L172.2,209.2 Z M172.9,209.2 L173.6,208.1 L174.2,209.2 Z M177.5,209.2 L178.6,208.4 L179.7,209.2 Z M181.2,209.2 L182.2,208.3 L183.1,209.2 Z M189.4,209.2 L190.1,208.0 L190.7,209.2 Z M191.9,209.2 L192.8,207.7 L193.7,209.2 Z M194.1,209.2 L195.2,208.7 L196.4,209.2 Z M197.1,209.2 L198.3,208.4 L199.4,209.2 Z M200.3,209.2 L201.1,208.2 L202.0,209.2 Z M203.0,209.2 L203.8,208.3 L204.6,209.2 Z M208.1,209.2 L209.3,208.6 L210.4,209.2 Z M214.6,209.2 L215.5,207.9 L216.3,209.2 Z M217.6,209.2 L218.4,208.0 L219.2,209.2 Z M219.6,209.2 L220.8,208.3 L222.0,209.2 Z M223.5,209.2 L224.4,208.2 L225.3,209.2 Z M225.8,209.2 L226.9,208.2 L228.0,209.2 Z M229.1,209.2 L230.1,208.4 L231.1,209.2 Z M231.9,209.2 L232.5,207.8 L233.2,209.2 Z M233.5,209.2 L234.7,208.0 L235.8,209.2 Z M236.8,209.2 L238.0,208.6 L239.2,209.2 Z M239.7,209.2 L240.3,207.7 L240.9,209.2 Z M242.0,209.2 L243.0,208.3 L244.1,209.2 Z M245.1,209.2 L246.3,208.0 L247.4,209.2 Z M248.4,209.2 L249.2,207.8 L250.0,209.2 Z " fill="#2a3ca0"/>
<path d="M164.6,209.2 L165.6,200.3 L166.3,200.3 L167.3,209.2 Z" fill="#2a3ca0"/>
<path d="M209.5,209.2 L210.4,186.8 L211.2,186.8 L212.2,209.2 Z" fill="#2a3ca0"/>
<path d="M78.2,209.2 L79.0,206.2 L79.8,209.2 Z" fill="#2a3ca0"/><path d="M83.2,209.2 L84.0,207.2 L84.8,209.2 Z" fill="#2a3ca0"/><path d="M88.2,209.2 L89.0,206.7 L89.8,209.2 Z" fill="#2a3ca0"/><path d="M94.2,209.2 L95.0,207.2 L95.8,209.2 Z" fill="#2a3ca0"/><path d="M99.2,209.2 L100.0,207.7 L100.8,209.2 Z" fill="#2a3ca0"/><path d="M103.2,209.2 L104.0,207.2 L104.8,209.2 Z" fill="#2a3ca0"/><path d="M107.2,209.2 L108.0,207.7 L108.8,209.2 Z" fill="#2a3ca0"/><path d="M109.2,209.2 L110.0,206.2 L110.8,209.2 Z" fill="#2a3ca0"/><path d="M112.2,209.2 L113.0,207.4 L113.8,209.2 Z" fill="#2a3ca0"/><path d="M116.2,209.2 L117.0,207.7 L117.8,209.2 Z" fill="#2a3ca0"/><path d="M119.2,209.2 L120.0,207.4 L120.8,209.2 Z" fill="#2a3ca0"/><path d="M122.2,209.2 L123.0,206.7 L123.8,209.2 Z" fill="#2a3ca0"/><path d="M125.2,209.2 L126.0,207.7 L126.8,209.2 Z" fill="#2a3ca0"/><path d="M128.2,209.2 L129.0,207.0 L129.8,209.2 Z" fill="#2a3ca0"/><path d="M131.2,209.2 L132.0,207.6 L132.8,209.2 Z" fill="#2a3ca0"/><path d="M134.2,209.2 L135.0,206.8 L135.8,209.2 Z" fill="#2a3ca0"/><path d="M137.2,209.2 L138.0,207.2 L138.8,209.2 Z" fill="#2a3ca0"/><path d="M140.2,209.2 L141.0,207.6 L141.8,209.2 Z" fill="#2a3ca0"/><path d="M143.2,209.2 L144.0,207.0 L144.8,209.2 Z" fill="#2a3ca0"/><path d="M146.2,209.2 L147.0,206.6 L147.8,209.2 Z" fill="#2a3ca0"/><path d="M149.2,209.2 L150.0,207.4 L150.8,209.2 Z" fill="#2a3ca0"/><path d="M152.2,209.2 L153.0,207.2 L153.8,209.2 Z" fill="#2a3ca0"/><path d="M155.2,209.2 L156.0,206.6 L156.8,209.2 Z" fill="#2a3ca0"/><path d="M158.2,209.2 L159.0,207.4 L159.8,209.2 Z" fill="#2a3ca0"/><path d="M161.2,209.2 L162.0,206.2 L162.8,209.2 Z" fill="#2a3ca0"/><path d="M169.2,209.2 L170.0,207.7 L170.8,209.2 Z" fill="#2a3ca0"/><path d="M174.2,209.2 L175.0,207.2 L175.8,209.2 Z" fill="#2a3ca0"/><path d="M179.2,209.2 L180.0,207.7 L180.8,209.2 Z" fill="#2a3ca0"/><path d="M185.2,209.2 L186.0,206.7 L186.8,209.2 Z" fill="#2a3ca0"/><path d="M191.2,209.2 L192.0,207.7 L192.8,209.2 Z" fill="#2a3ca0"/><path d="M197.2,209.2 L198.0,207.4 L198.8,209.2 Z" fill="#2a3ca0"/><path d="M203.2,209.2 L204.0,207.7 L204.8,209.2 Z" fill="#2a3ca0"/><path d="M214.2,209.2 L215.0,207.0 L215.8,209.2 Z" fill="#2a3ca0"/><path d="M219.2,209.2 L220.0,207.7 L220.8,209.2 Z" fill="#2a3ca0"/><path d="M224.2,209.2 L225.0,207.4 L225.8,209.2 Z" fill="#2a3ca0"/><path d="M230.2,209.2 L231.0,207.2 L231.8,209.2 Z" fill="#2a3ca0"/><path d="M235.2,209.2 L236.0,207.6 L236.8,209.2 Z" fill="#2a3ca0"/><path d="M240.2,209.2 L241.0,207.2 L241.8,209.2 Z" fill="#2a3ca0"/><path d="M245.2,209.2 L246.0,207.4 L246.8,209.2 Z" fill="#2a3ca0"/>
<path d="M351.8,157.4 L351.8,157.4 L352.2,156.6 L353.4,155.1 L354.5,154.3 L355.7,155.1 L357.2,152.4 L358.4,154.3 L359.5,150.5 L360.3,148.5 L361.2,152.0 L362.2,150.1 L363.4,152.8 L364.5,147.0 L365.5,142.4 L366.5,146.6 L367.6,141.2 L368.6,139.7 L369.4,143.9 L370.5,138.2 L371.5,144.3 L372.5,145.8 L373.4,148.2 L374.5,154.7 L375.7,155.8 L376.8,155.1 L378.4,144.3 L379.5,136.2 L380.7,139.7 L381.7,149.7 L382.6,153.5 L383.8,152.0 L384.9,149.7 L386.1,151.2 L387.2,155.1 L385.0,148.2 L386.2,150.5 L386.9,155.1 L388.5,150.5 L389.6,154.3 L390.8,155.1 L392.7,154.7 L394.2,155.5 L395.8,157.0 L397.3,155.8 L398.8,153.2 L400.0,155.8 L401.5,156.2 L403.5,156.6 L405.0,157.0 L406.2,157.0 L406.7,157.4 L406.7,157.4 Z" fill="#5c9c68"/>
<rect x="415.80" y="156.30" width="4.60" height="1.10" fill="#5c9c68"/>
<path d="M347.6,157.4 L348.8,156.2 L350.0,157.4 Z" fill="#5c9c68"/><path d="M338.8,157.4 L340.0,156.6 L341.2,157.4 Z" fill="#5c9c68"/><path d="M404.6,157.4 L405.8,156.6 L407.0,157.4 Z" fill="#5c9c68"/><path d="M418.8,157.4 L420.0,156.6 L421.2,157.4 Z" fill="#5c9c68"/><path d="M429.8,157.4 L431.0,156.4 L432.2,157.4 Z" fill="#5c9c68"/><path d="M432.8,157.4 L434.0,156.6 L435.2,157.4 Z" fill="#5c9c68"/><path d="M445.8,157.4 L447.0,156.6 L448.2,157.4 Z" fill="#5c9c68"/><path d="M455.8,157.4 L457.0,156.6 L458.2,157.4 Z" fill="#5c9c68"/><path d="M468.8,157.4 L470.0,156.6 L471.2,157.4 Z" fill="#5c9c68"/><path d="M478.8,157.4 L480.0,156.6 L481.2,157.4 Z" fill="#5c9c68"/><path d="M492.8,157.4 L494.0,156.6 L495.2,157.4 Z" fill="#5c9c68"/><path d="M498.8,157.4 L500.0,156.6 L501.2,157.4 Z" fill="#5c9c68"/>
<rect x="337.0" y="184.80" width="170.5" height="1.0" fill="#2a3ca0" opacity="1.0"/>
<path d="M337.6,185.8 L337.6,185.8 L339.1,182.2 L340.2,179.2 L341.3,181.8 L342.8,185.8 L342.8,185.8 Z" fill="#2a3ca0"/>
<path d="M342.2,185.8 L342.2,185.8 L343.6,183.6 L344.5,181.8 L345.4,183.4 L346.8,185.8 L346.8,185.8 Z" fill="#2a3ca0"/>
<path d="M344.5,185.8 L344.5,185.8 L345.8,184.2 L346.5,182.8 L347.2,184.0 L348.5,185.8 L348.5,185.8 Z" fill="#2a3ca0"/>
<path d="M345.7,185.8 L345.7,185.8 L347.1,183.2 L348.0,181.0 L348.9,182.9 L350.3,185.8 L350.3,185.8 Z" fill="#2a3ca0"/>
<path d="M351.7,185.8 L351.7,185.8 L353.1,184.1 L354.0,182.7 L354.9,183.9 L356.3,185.8 L356.3,185.8 Z" fill="#2a3ca0"/>
<path d="M357.6,185.8 L357.6,185.8 L359.0,183.6 L360.0,181.8 L361.0,183.4 L362.4,185.8 L362.4,185.8 Z" fill="#2a3ca0"/>
<path d="M363.5,185.8 L363.5,185.8 L365.0,182.6 L366.1,180.0 L367.2,182.3 L368.7,185.8 L368.7,185.8 Z" fill="#2a3ca0"/>
<path d="M366.2,185.8 L366.2,185.8 L367.5,183.5 L368.2,181.6 L368.9,183.3 L370.2,185.8 L370.2,185.8 Z" fill="#2a3ca0"/>
<path d="M380.4,185.8 L380.4,185.8 L381.9,183.5 L383.0,181.6 L384.1,183.3 L385.6,185.8 L385.6,185.8 Z" fill="#2a3ca0"/>
<path d="M383.1,185.8 L383.1,185.8 L384.5,183.2 L385.5,181.0 L386.5,182.9 L387.9,185.8 L387.9,185.8 Z" fill="#2a3ca0"/>
<path d="M386.0,185.8 L386.0,185.8 L387.4,183.7 L388.2,181.9 L389.0,183.5 L390.4,185.8 L390.4,185.8 Z" fill="#2a3ca0"/>
<path d="M392.1,185.8 L392.1,185.8 L393.6,182.6 L394.7,180.0 L395.8,182.3 L397.3,185.8 L397.3,185.8 Z" fill="#2a3ca0"/>
<path d="M399.0,185.8 L399.0,185.8 L400.5,183.2 L401.6,181.0 L402.7,182.9 L404.2,185.8 L404.2,185.8 Z" fill="#2a3ca0"/>
<path d="M402.2,185.8 L402.2,185.8 L403.6,183.6 L404.5,181.8 L405.4,183.4 L406.8,185.8 L406.8,185.8 Z" fill="#2a3ca0"/>
<path d="M404.7,185.8 L404.7,185.8 L406.1,183.6 L407.0,181.8 L407.9,183.4 L409.3,185.8 L409.3,185.8 Z" fill="#2a3ca0"/>
<path d="M408.2,185.8 L408.2,185.8 L409.6,182.9 L410.6,180.6 L411.6,182.7 L413.0,185.8 L413.0,185.8 Z" fill="#2a3ca0"/>
<path d="M412.8,185.8 L412.8,185.8 L414.3,181.0 L415.4,177.1 L416.5,180.6 L418.0,185.8 L418.0,185.8 Z" fill="#2a3ca0"/>
<path d="M416.2,185.8 L416.2,185.8 L417.6,183.2 L418.5,181.0 L419.4,182.9 L420.8,185.8 L420.8,185.8 Z" fill="#2a3ca0"/>
<path d="M418.9,185.8 L418.9,185.8 L420.4,183.2 L421.5,181.0 L422.6,182.9 L424.1,185.8 L424.1,185.8 Z" fill="#2a3ca0"/>
<path d="M423.2,185.8 L423.2,185.8 L424.6,183.6 L425.5,181.8 L426.4,183.4 L427.8,185.8 L427.8,185.8 Z" fill="#2a3ca0"/>
<path d="M425.6,185.8 L425.6,185.8 L427.0,182.8 L428.0,180.3 L429.0,182.5 L430.4,185.8 L430.4,185.8 Z" fill="#2a3ca0"/>
<path d="M428.7,185.8 L428.7,185.8 L430.1,183.3 L431.0,181.3 L431.9,183.1 L433.3,185.8 L433.3,185.8 Z" fill="#2a3ca0"/>
<path d="M432.1,185.8 L432.1,185.8 L433.5,183.1 L434.5,180.8 L435.5,182.8 L436.9,185.8 L436.9,185.8 Z" fill="#2a3ca0"/>
<path d="M435.2,185.8 L435.2,185.8 L436.6,183.3 L437.5,181.3 L438.4,183.1 L439.8,185.8 L439.8,185.8 Z" fill="#2a3ca0"/>
<path d="M438.1,185.8 L438.1,185.8 L439.5,182.9 L440.5,180.6 L441.5,182.7 L442.9,185.8 L442.9,185.8 Z" fill="#2a3ca0"/>
<path d="M441.2,185.8 L441.2,185.8 L442.6,183.2 L443.5,181.0 L444.4,182.9 L445.8,185.8 L445.8,185.8 Z" fill="#2a3ca0"/>
<path d="M444.0,185.8 L444.0,185.8 L445.5,182.2 L446.5,179.3 L447.5,181.9 L449.0,185.8 L449.0,185.8 Z" fill="#2a3ca0"/>
<path d="M447.2,185.8 L447.2,185.8 L448.6,182.8 L449.5,180.3 L450.4,182.5 L451.8,185.8 L451.8,185.8 Z" fill="#2a3ca0"/>
<path d="M450.1,185.8 L450.1,185.8 L451.5,182.5 L452.5,179.8 L453.5,182.2 L454.9,185.8 L454.9,185.8 Z" fill="#2a3ca0"/>
<path d="M453.3,185.8 L453.3,185.8 L454.7,183.6 L455.5,181.8 L456.3,183.4 L457.7,185.8 L457.7,185.8 Z" fill="#2a3ca0"/>
<path d="M457.2,185.8 L457.2,185.8 L458.6,183.9 L459.5,182.3 L460.4,183.7 L461.8,185.8 L461.8,185.8 Z" fill="#2a3ca0"/>
<path d="M460.7,185.8 L460.7,185.8 L462.1,183.9 L463.0,182.3 L463.9,183.7 L465.3,185.8 L465.3,185.8 Z" fill="#2a3ca0"/>
<path d="M464.2,185.8 L464.2,185.8 L465.6,183.5 L466.5,181.6 L467.4,183.3 L468.8,185.8 L468.8,185.8 Z" fill="#2a3ca0"/>
<path d="M467.7,185.8 L467.7,185.8 L469.1,183.3 L470.0,181.3 L470.9,183.1 L472.3,185.8 L472.3,185.8 Z" fill="#2a3ca0"/>
<path d="M471.1,185.8 L471.1,185.8 L472.5,183.1 L473.5,180.8 L474.5,182.8 L475.9,185.8 L475.9,185.8 Z" fill="#2a3ca0"/>
<path d="M474.6,185.8 L474.6,185.8 L476.0,182.2 L477.0,179.3 L478.0,181.9 L479.4,185.8 L479.4,185.8 Z" fill="#2a3ca0"/>
<path d="M477.8,185.8 L477.8,185.8 L479.2,183.9 L480.0,182.3 L480.8,183.7 L482.2,185.8 L482.2,185.8 Z" fill="#2a3ca0"/>
<path d="M481.7,185.8 L481.7,185.8 L483.1,183.9 L484.0,182.3 L484.9,183.7 L486.3,185.8 L486.3,185.8 Z" fill="#2a3ca0"/>
<path d="M484.8,185.8 L484.8,185.8 L486.2,183.6 L487.0,181.8 L487.8,183.4 L489.2,185.8 L489.2,185.8 Z" fill="#2a3ca0"/>
<path d="M488.0,185.8 L488.0,185.8 L489.5,182.0 L490.5,178.8 L491.5,181.6 L493.0,185.8 L493.0,185.8 Z" fill="#2a3ca0"/>
<path d="M491.3,185.8 L491.3,185.8 L492.7,183.6 L493.5,181.8 L494.3,183.4 L495.7,185.8 L495.7,185.8 Z" fill="#2a3ca0"/>
<path d="M494.7,185.8 L494.7,185.8 L496.1,183.9 L497.0,182.3 L497.9,183.7 L499.3,185.8 L499.3,185.8 Z" fill="#2a3ca0"/>
<path d="M497.1,185.8 L497.1,185.8 L498.5,183.1 L499.5,180.8 L500.5,182.8 L501.9,185.8 L501.9,185.8 Z" fill="#2a3ca0"/>
<path d="M500.3,185.8 L500.3,185.8 L501.7,183.6 L502.5,181.8 L503.3,183.4 L504.7,185.8 L504.7,185.8 Z" fill="#2a3ca0"/>
<path d="M503.1,185.8 L503.1,185.8 L504.5,182.8 L505.5,180.3 L506.5,182.5 L507.9,185.8 L507.9,185.8 Z" fill="#2a3ca0"/>
<path d="M369.0,185.8 L369.0,185.8 L369.8,180.0 L370.5,175.8 L371.6,165.4 L372.7,158.5 L373.9,167.1 L375.1,172.3 L376.5,179.2 L377.5,185.8 L377.5,185.8 Z" fill="#2a3ca0"/>
<path d="M336.7,212.7 L337.6,205.8 L338.5,212.7 Z" fill="#2a3ca0"/><path d="M340.1,212.7 L341.0,205.8 L341.9,212.7 Z" fill="#2a3ca0"/><path d="M343.1,212.7 L344.0,211.2 L344.9,212.7 Z" fill="#2a3ca0"/>
<rect x="343.0" y="211.10" width="77.0" height="1.6" fill="#2a3ca0" opacity="0.9"/>
<path d="M365.0,212.7 L365.0,212.7 L366.0,209.0 L367.0,206.6 L368.5,209.2 L369.8,207.0 L371.3,198.8 L372.7,188.1 L373.9,197.1 L375.1,201.4 L376.2,199.7 L377.4,201.4 L378.3,211.0 L379.0,212.7 L379.0,212.7 Z" fill="#2a3ca0"/>
<path d="M380.4,212.7 L381.4,203.2 L382.4,212.7 Z" fill="#2a3ca0"/><path d="M385.0,212.7 L386.0,210.2 L387.0,212.7 Z" fill="#2a3ca0"/><path d="M388.0,212.7 L389.0,210.9 L390.0,212.7 Z" fill="#2a3ca0"/><path d="M392.5,212.7 L393.5,210.9 L394.5,212.7 Z" fill="#2a3ca0"/><path d="M395.5,212.7 L396.5,209.2 L397.5,212.7 Z" fill="#2a3ca0"/><path d="M398.9,212.7 L399.9,206.6 L400.9,212.7 Z" fill="#2a3ca0"/><path d="M402.9,212.7 L403.9,204.9 L404.9,212.7 Z" fill="#2a3ca0"/><path d="M405.0,212.7 L406.0,209.7 L407.0,212.7 Z" fill="#2a3ca0"/><path d="M408.0,212.7 L409.0,210.7 L410.0,212.7 Z" fill="#2a3ca0"/><path d="M411.0,212.7 L412.0,211.0 L413.0,212.7 Z" fill="#2a3ca0"/>
<rect x="413.80" y="209.50" width="4.10" height="3.20" fill="#2a3ca0"/><path d="M413.4,212.7 L414.4,206.5 L415.3,212.7 Z" fill="#2a3ca0"/><path d="M414.9,212.7 L415.8,208.2 L416.8,212.7 Z" fill="#2a3ca0"/><path d="M416.4,212.7 L417.3,206.4 L418.2,212.7 Z" fill="#2a3ca0"/>
<rect x="419.20" y="209.30" width="5.40" height="3.40" fill="#2a3ca0"/><path d="M418.9,212.7 L419.8,208.7 L420.8,212.7 Z" fill="#2a3ca0"/><path d="M419.7,212.7 L420.6,205.5 L421.6,212.7 Z" fill="#2a3ca0"/><path d="M421.1,212.7 L422.0,208.2 L422.9,212.7 Z" fill="#2a3ca0"/><path d="M422.6,212.7 L423.5,206.0 L424.4,212.7 Z" fill="#2a3ca0"/>
<rect x="425.40" y="209.30" width="6.80" height="3.40" fill="#2a3ca0"/><path d="M425.2,212.7 L426.2,204.3 L427.1,212.7 Z" fill="#2a3ca0"/><path d="M426.4,212.7 L427.4,204.3 L428.3,212.7 Z" fill="#2a3ca0"/><path d="M427.9,212.7 L428.8,208.2 L429.8,212.7 Z" fill="#2a3ca0"/><path d="M429.9,212.7 L430.8,205.5 L431.8,212.7 Z" fill="#2a3ca0"/><path d="M430.8,212.7 L431.7,208.2 L432.6,212.7 Z" fill="#2a3ca0"/>
<path d="M434.7,212.7 L435.6,209.7 L436.5,212.7 Z" fill="#2a3ca0"/><path d="M440.6,212.7 L441.5,202.7 L442.4,212.7 Z" fill="#2a3ca0"/><path d="M441.6,212.7 L442.5,205.7 L443.4,212.7 Z" fill="#2a3ca0"/>
<rect x="444.30" y="209.10" width="17.20" height="3.60" fill="#2a3ca0"/><path d="M444.4,212.7 L445.4,206.7 L446.3,212.7 Z" fill="#2a3ca0"/><path d="M446.4,212.7 L447.4,205.9 L448.3,212.7 Z" fill="#2a3ca0"/><path d="M448.4,212.7 L449.4,205.3 L450.3,212.7 Z" fill="#2a3ca0"/><path d="M450.4,212.7 L451.4,207.2 L452.3,212.7 Z" fill="#2a3ca0"/><path d="M452.6,212.7 L453.5,206.7 L454.4,212.7 Z" fill="#2a3ca0"/><path d="M454.6,212.7 L455.5,206.7 L456.4,212.7 Z" fill="#2a3ca0"/><path d="M456.6,212.7 L457.5,203.3 L458.4,212.7 Z" fill="#2a3ca0"/><path d="M458.6,212.7 L459.5,203.9 L460.4,212.7 Z" fill="#2a3ca0"/><path d="M459.9,212.7 L460.9,207.2 L461.8,212.7 Z" fill="#2a3ca0"/>
<rect x="464.90" y="209.40" width="10.80" height="3.30" fill="#2a3ca0"/><path d="M465.2,212.7 L466.2,207.2 L467.1,212.7 Z" fill="#2a3ca0"/><path d="M468.1,212.7 L469.0,205.9 L469.9,212.7 Z" fill="#2a3ca0"/><path d="M470.7,212.7 L471.6,204.6 L472.6,212.7 Z" fill="#2a3ca0"/><path d="M473.4,212.7 L474.3,206.7 L475.2,212.7 Z" fill="#2a3ca0"/>
<path d="M476.2,212.7 L477.0,208.2 L477.8,212.7 Z" fill="#2a3ca0"/><path d="M479.9,212.7 L480.7,203.3 L481.5,212.7 Z" fill="#2a3ca0"/><path d="M480.6,212.7 L481.4,204.7 L482.2,212.7 Z" fill="#2a3ca0"/>
<rect x="482.40" y="209.30" width="24.20" height="3.40" fill="#2a3ca0"/><path d="M484.9,212.7 L485.8,207.2 L486.8,212.7 Z" fill="#2a3ca0"/><path d="M486.6,212.7 L487.5,208.2 L488.4,212.7 Z" fill="#2a3ca0"/><path d="M488.9,212.7 L489.8,207.9 L490.8,212.7 Z" fill="#2a3ca0"/><path d="M490.6,212.7 L491.5,208.7 L492.4,212.7 Z" fill="#2a3ca0"/><path d="M492.9,212.7 L493.8,207.2 L494.8,212.7 Z" fill="#2a3ca0"/><path d="M494.9,212.7 L495.8,208.4 L496.8,212.7 Z" fill="#2a3ca0"/><path d="M496.9,212.7 L497.9,206.7 L498.8,212.7 Z" fill="#2a3ca0"/><path d="M499.1,212.7 L500.0,208.2 L500.9,212.7 Z" fill="#2a3ca0"/><path d="M500.9,212.7 L501.9,206.7 L502.8,212.7 Z" fill="#2a3ca0"/><path d="M503.7,212.7 L504.6,208.7 L505.6,212.7 Z" fill="#2a3ca0"/>
<path d="M459.9,212.7 L460.7,207.9 L461.5,212.7 Z" fill="#2a3ca0"/>
<rect x="413.0" y="211.70" width="94.0" height="1.0" fill="#2a3ca0" opacity="0.9"/>
<rect x="82.80" y="95.80" width="14.70" height="2.10" fill="#16188a"/>
<rect x="97.50" y="93.50" width="3.30" height="5.50" fill="#16188a"/>
<rect x="100.80" y="96.20" width="9.70" height="1.00" fill="#7a80b8"/>
<rect x="110.50" y="93.60" width="28.50" height="5.60" fill="#16188a"/>
<rect x="139.00" y="96.20" width="18.00" height="1.00" fill="#7a80b8"/>
<rect x="157.00" y="94.00" width="5.70" height="5.40" fill="#16188a"/>
<rect x="162.70" y="95.50" width="25.60" height="2.50" fill="#16188a"/>
<path d="M118.9,103.8 L132.8,107.2 L118.9,110.6 Z" fill="#000"/>
<text x="134.19" y="111.20" font-size="12.28" font-style="italic" stroke="#000" stroke-width="0.25" fill="#000" textLength="23.39" lengthAdjust="spacingAndGlyphs">Klf2</text>
<rect x="212.00" y="96.00" width="35.50" height="2.50" fill="#000"/>
<text x="217.40" y="109.09" font-size="10.88" stroke="#000" stroke-width="0.25" fill="#000" textLength="25.24" lengthAdjust="spacingAndGlyphs">1 kb</text>
<rect x="82.40" y="43.90" width="3.30" height="0.90" fill="#8a8a8a"/>
<rect x="181.00" y="15.00" width="7.00" height="6.00" fill="#c8102e"/>
<rect x="183.50" y="16.80" width="2.00" height="2.00" fill="#e86070"/>
<rect x="366.30" y="95.00" width="69.70" height="2.30" fill="#16188a"/>
<rect x="436.00" y="95.40" width="9.60" height="1.60" fill="#16188a"/>
<rect x="413.60" y="94.60" width="22.40" height="3.00" fill="#16188a"/>
<rect x="392.90" y="93.20" width="20.70" height="5.20" fill="#16188a"/>
<text x="392.17" y="109.27" font-size="12.86" font-style="italic" stroke="#000" stroke-width="0.25" fill="#000" textLength="22.11" lengthAdjust="spacingAndGlyphs">Jun</text>
<path d="M429.6,101.0 L416.3,104.4 L429.6,107.8 Z" fill="#000"/>
<rect x="492.00" y="95.20" width="22.20" height="2.40" fill="#000"/>
<text x="488.34" y="108.78" font-size="12.38" stroke="#000" stroke-width="0.25" fill="#000" textLength="26.62" lengthAdjust="spacingAndGlyphs">1 kb</text>
<rect x="431.50" y="6.70" width="16.40" height="5.90" fill="#1a2a9a"/>
<rect x="451.70" y="6.70" width="13.50" height="5.90" fill="#1a2a9a"/>
<rect x="432.50" y="13.50" width="4.80" height="5.70" fill="#c8102e"/>
<rect x="73.50" y="209.40" width="2.00" height="6.90" fill="#16188a"/>
<rect x="76.90" y="209.40" width="1.80" height="6.90" fill="#16188a"/>
<rect x="79.80" y="209.40" width="1.70" height="6.90" fill="#16188a"/>
<rect x="82.70" y="209.40" width="1.70" height="6.90" fill="#16188a"/>
<rect x="86.20" y="209.40" width="1.70" height="6.90" fill="#16188a"/>
<rect x="89.00" y="209.40" width="1.80" height="6.90" fill="#16188a"/>
<rect x="91.30" y="209.40" width="1.70" height="6.90" fill="#16188a"/>
<rect x="94.80" y="209.40" width="1.20" height="6.90" fill="#16188a"/>
<rect x="99.40" y="209.40" width="1.20" height="6.90" fill="#16188a"/>
<rect x="106.90" y="209.40" width="1.80" height="6.90" fill="#16188a"/>
<rect x="109.80" y="209.40" width="1.70" height="6.90" fill="#16188a"/>
<rect x="112.70" y="209.40" width="1.70" height="6.90" fill="#16188a"/>
<rect x="116.20" y="209.40" width="2.30" height="6.90" fill="#16188a"/>
<rect x="73.50" y="212.30" width="45.00" height="1.20" fill="#16188a"/>
<rect x="117.00" y="212.30" width="93.30" height="1.00" fill="#5a64a8"/>
<rect x="158.30" y="211.30" width="13.20" height="3.00" fill="#16188a"/>
<rect x="189.00" y="211.00" width="1.00" height="6.00" fill="#16188a"/>
<rect x="209.80" y="210.00" width="1.00" height="6.00" fill="#16188a"/>
<text x="114.38" y="227.38" font-size="12.24" font-style="italic" stroke="#000" stroke-width="0.25" fill="#000" textLength="40.16" lengthAdjust="spacingAndGlyphs">Hdac5</text>
<path d="M173.3,218.8 L160.5,222.1 L173.3,225.3 Z" fill="#000"/>
<rect x="229.00" y="212.00" width="21.00" height="2.40" fill="#000"/>
<text x="227.23" y="226.07" font-size="12.79" stroke="#000" stroke-width="0.25" fill="#000" textLength="26.94" lengthAdjust="spacingAndGlyphs">5 kb</text>
<rect x="366.50" y="215.00" width="13.10" height="2.20" fill="#16188a"/>
<rect x="384.40" y="215.60" width="6.80" height="3.80" fill="#16188a"/>
<rect x="387.50" y="214.20" width="3.70" height="6.20" fill="#16188a"/>
<rect x="391.20" y="217.00" width="23.40" height="1.00" fill="#5a64a8"/>
<rect x="414.60" y="213.70" width="20.40" height="6.70" fill="#16188a"/>
<rect x="435.00" y="216.00" width="19.60" height="2.80" fill="#16188a"/>
<path d="M394.4,223.3 L406.0,226.7 L394.4,230.0 Z" fill="#000"/>
<text x="409.37" y="230.76" font-size="10.66" font-style="italic" stroke="#000" stroke-width="0.25" fill="#000" textLength="30.00" lengthAdjust="spacingAndGlyphs">Egr2</text>
<rect x="475.80" y="214.60" width="33.60" height="2.40" fill="#000"/>
<text x="479.69" y="228.09" font-size="10.88" stroke="#000" stroke-width="0.25" fill="#000" textLength="26.67" lengthAdjust="spacingAndGlyphs">2 kb</text>
<rect x="125.20" y="118.30" width="2.00" height="6.40" fill="#b52aa8"/>
<rect x="143.40" y="125.30" width="1.40" height="6.30" fill="#7682b0"/>
<rect x="148.80" y="125.30" width="1.40" height="5.90" fill="#22246e"/>
<rect x="164.50" y="125.30" width="2.20" height="5.90" fill="#1c1e7e"/>
<rect x="209.80" y="125.30" width="2.30" height="6.30" fill="#12126e"/>
<rect x="123.20" y="131.80" width="1.50" height="6.20" fill="#e4b27c"/>
<rect x="128.90" y="131.80" width="1.60" height="6.20" fill="#e4b27c"/>
<rect x="128.90" y="138.00" width="1.60" height="5.20" fill="#b87a88"/>
<rect x="149.10" y="131.80" width="1.60" height="6.20" fill="#e4b27c"/>
<rect x="149.10" y="138.00" width="1.60" height="5.20" fill="#b87a88"/>
<rect x="152.00" y="131.80" width="1.60" height="6.20" fill="#e4b27c"/>
<rect x="164.70" y="131.80" width="1.50" height="6.20" fill="#e4b27c"/>
<rect x="164.70" y="138.00" width="1.50" height="5.20" fill="#9070a0"/>
<rect x="189.30" y="131.80" width="1.60" height="6.20" fill="#e4b27c"/>
<rect x="205.70" y="131.80" width="1.40" height="6.20" fill="#e4b27c"/>
<rect x="210.60" y="117.40" width="2.90" height="0.90" fill="#d8d8d8"/>
<rect x="226.00" y="117.40" width="3.60" height="0.90" fill="#d8d8d8"/>
<text x="7.53" y="256.20" font-size="19.42" font-weight="bold" stroke="#000" stroke-width="0.25" fill="#000" textLength="13.03" lengthAdjust="spacingAndGlyphs">B</text>
<rect x="71.73" y="270.41" width="4.30" height="111.09" fill="#2a4a8e" stroke="#1e3670" stroke-width="0.45"/>
<rect x="81.20" y="326.90" width="4.30" height="54.60" fill="#2a4a8e" stroke="#1e3670" stroke-width="0.45"/>
<rect x="90.68" y="353.27" width="4.30" height="28.23" fill="#2a4a8e" stroke="#1e3670" stroke-width="0.45"/>
<rect x="100.15" y="352.05" width="4.30" height="29.45" fill="#2a4a8e" stroke="#1e3670" stroke-width="0.45"/>
<rect x="109.63" y="362.75" width="4.30" height="18.75" fill="#2a4a8e" stroke="#1e3670" stroke-width="0.45"/>
<rect x="119.10" y="351.93" width="4.30" height="29.57" fill="#2a4a8e" stroke="#1e3670" stroke-width="0.45"/>
<rect x="128.58" y="365.05" width="4.30" height="16.45" fill="#2a4a8e" stroke="#1e3670" stroke-width="0.45"/>
<rect x="138.05" y="352.90" width="4.30" height="28.60" fill="#2a4a8e" stroke="#1e3670" stroke-width="0.45"/>
<rect x="147.53" y="358.01" width="4.30" height="23.49" fill="#2a4a8e" stroke="#1e3670" stroke-width="0.45"/>
<rect x="157.00" y="363.60" width="4.30" height="17.90" fill="#2a4a8e" stroke="#1e3670" stroke-width="0.45"/>
<rect x="166.47" y="366.27" width="4.30" height="15.23" fill="#2a4a8e" stroke="#1e3670" stroke-width="0.45"/>
<rect x="175.95" y="353.03" width="4.30" height="28.47" fill="#2a4a8e" stroke="#1e3670" stroke-width="0.45"/>
<rect x="185.42" y="357.16" width="4.30" height="24.34" fill="#2a4a8e" stroke="#1e3670" stroke-width="0.45"/>
<rect x="194.90" y="366.27" width="4.30" height="15.23" fill="#2a4a8e" stroke="#1e3670" stroke-width="0.45"/>
<rect x="204.38" y="368.94" width="4.30" height="12.56" fill="#2a4a8e" stroke="#1e3670" stroke-width="0.45"/>
<rect x="213.85" y="372.22" width="4.30" height="9.28" fill="#2a4a8e" stroke="#1e3670" stroke-width="0.45"/>
<rect x="223.32" y="372.22" width="4.30" height="9.28" fill="#2a4a8e" stroke="#1e3670" stroke-width="0.45"/>
<rect x="232.80" y="366.39" width="4.30" height="15.11" fill="#2a4a8e" stroke="#1e3670" stroke-width="0.45"/>
<rect x="242.28" y="366.39" width="4.30" height="15.11" fill="#2a4a8e" stroke="#1e3670" stroke-width="0.45"/>
<rect x="251.75" y="373.19" width="3.05" height="8.31" fill="#2a4a8e" stroke="#1e3670" stroke-width="0.45"/>
<rect x="63.80" y="259.40" width="1.40" height="125.40" fill="#111"/>
<rect x="63.80" y="380.80" width="190.80" height="1.40" fill="#111"/>
<rect x="60.20" y="380.70" width="4.30" height="1.60" fill="#111"/>
<rect x="60.20" y="356.40" width="4.30" height="1.60" fill="#111"/>
<rect x="60.20" y="332.10" width="4.30" height="1.60" fill="#111"/>
<rect x="60.20" y="307.80" width="4.30" height="1.60" fill="#111"/>
<rect x="60.20" y="283.50" width="4.30" height="1.60" fill="#111"/>
<rect x="60.20" y="259.20" width="4.30" height="1.60" fill="#111"/>
<rect x="111.08" y="381.00" width="1.40" height="3.80" fill="#111"/>
<rect x="158.45" y="381.00" width="1.40" height="3.80" fill="#111"/>
<rect x="205.83" y="381.00" width="1.40" height="3.80" fill="#111"/>
<rect x="253.20" y="381.00" width="1.40" height="3.80" fill="#111"/>
<text x="44.99" y="263.55" font-size="10.28" stroke="#000000" stroke-width="0.25" fill="#000000" textLength="14.91" lengthAdjust="spacingAndGlyphs">10</text>
<text x="50.67" y="287.85" font-size="10.28" stroke="#000000" stroke-width="0.25" fill="#000000" textLength="8.78" lengthAdjust="spacingAndGlyphs">8</text>
<text x="50.49" y="312.15" font-size="10.28" stroke="#000000" stroke-width="0.25" fill="#000000" textLength="8.97" lengthAdjust="spacingAndGlyphs">6</text>
<text x="51.32" y="336.55" font-size="10.58" stroke="#000000" stroke-width="0.25" fill="#000000" textLength="7.85" lengthAdjust="spacingAndGlyphs">4</text>
<text x="50.82" y="360.85" font-size="10.43" stroke="#000000" stroke-width="0.25" fill="#000000" textLength="8.71" lengthAdjust="spacingAndGlyphs">2</text>
<text x="51.08" y="385.05" font-size="10.28" stroke="#000000" stroke-width="0.25" fill="#000000" textLength="8.26" lengthAdjust="spacingAndGlyphs">0</text>
<text x="60.32" y="396.09" font-size="10.99" stroke="#000000" stroke-width="0.25" fill="#000000" textLength="7.57" lengthAdjust="spacingAndGlyphs">0</text>
<text x="107.22" y="396.09" font-size="11.14" stroke="#000000" stroke-width="0.25" fill="#000000" textLength="8.08" lengthAdjust="spacingAndGlyphs">5</text>
<text x="151.67" y="396.09" font-size="10.99" stroke="#000000" stroke-width="0.25" fill="#000000" textLength="15.24" lengthAdjust="spacingAndGlyphs">10</text>
<text x="199.07" y="396.09" font-size="11.14" stroke="#000000" stroke-width="0.25" fill="#000000" textLength="15.32" lengthAdjust="spacingAndGlyphs">15</text>
<text x="246.36" y="396.09" font-size="10.99" stroke="#000000" stroke-width="0.25" fill="#000000" textLength="14.32" lengthAdjust="spacingAndGlyphs">20</text>
<text x="94.53" y="409.31" font-size="11.87" stroke="#000000" stroke-width="0.25" fill="#000000" textLength="139.05" lengthAdjust="spacingAndGlyphs">Distance from TSS (kb)</text>
<g transform="rotate(-90)"><text x="-366.80" y="33.19" font-size="14.33" stroke="#000000" stroke-width="0.25" fill="#000000" textLength="107.70" lengthAdjust="spacingAndGlyphs">ChIP-seq peaks (%)</text></g>
<path d="M149.60,292.20 L184.45,283.14 A36.5,30.5 0 1 1 118.54,276.18 Z" fill="#4b86d4" stroke="#1c2a60" stroke-width="0.9" stroke-linejoin="round"/>
<path d="M149.60,292.20 L118.54,276.18 A36.5,30.5 0 0 1 149.60,261.70 Z" fill="#adcbf0" stroke="#1c2a60" stroke-width="0.9" stroke-linejoin="round"/>
<path d="M149.60,292.20 L149.60,261.70 A36.5,30.5 0 0 1 184.45,283.14 Z" fill="#243c82" stroke="#1c2a60" stroke-width="0.9" stroke-linejoin="round"/>
<ellipse cx="149.6" cy="292.2" rx="36.5" ry="30.5" fill="none" stroke="#1c2a60" stroke-width="1.1"/>
<text x="124.68" y="278.70" font-size="10.00" stroke="#1a2040" stroke-width="0.22" fill="#1a2040" textLength="23.78" lengthAdjust="spacingAndGlyphs">16,2</text>
<text x="150.56" y="282.34" font-size="10.48" stroke="#ffffff" stroke-width="0.18" fill="#ffffff" textLength="25.04" lengthAdjust="spacingAndGlyphs">20,2</text>
<text x="137.64" y="307.76" font-size="11.08" stroke="#dcecff" stroke-width="0.18" fill="#dcecff" textLength="25.81" lengthAdjust="spacingAndGlyphs">63,6</text>
<rect x="198.4" y="280.90" width="6.2" height="5.00" fill="#243c82" stroke="#222a50" stroke-width="0.8"/>
<rect x="198.4" y="291.10" width="6.2" height="4.80" fill="#4b86d4" stroke="#222a50" stroke-width="0.8"/>
<rect x="198.4" y="301.00" width="6.2" height="5.20" fill="#adcbf0" stroke="#222a50" stroke-width="0.8"/>
<text x="206.67" y="286.60" font-size="10.07" stroke="#000000" stroke-width="0.25" fill="#000000" textLength="37.55" lengthAdjust="spacingAndGlyphs">0- 5 kb</text>
<text x="206.62" y="296.60" font-size="9.80" stroke="#000000" stroke-width="0.25" fill="#000000" textLength="46.78" lengthAdjust="spacingAndGlyphs">5-100 kb</text>
<text x="206.55" y="307.30" font-size="10.34" stroke="#000000" stroke-width="0.25" fill="#000000" textLength="46.82" lengthAdjust="spacingAndGlyphs">&gt; 100 kb</text>
<text x="7.46" y="433.30" font-size="19.57" font-weight="bold" stroke="#000" stroke-width="0.25" fill="#000" textLength="13.74" lengthAdjust="spacingAndGlyphs">D</text>
<rect x="77.60" y="442.40" width="1.60" height="124.60" fill="#111"/>
<rect x="77.60" y="565.30" width="157.20" height="1.50" fill="#111"/>
<rect x="73.60" y="565.35" width="4.90" height="1.30" fill="#111"/>
<text x="47.12" y="569.59" font-size="10.56" stroke="#000000" stroke-width="0.25" fill="#000000" textLength="26.47" lengthAdjust="spacingAndGlyphs">0.00</text>
<rect x="73.60" y="540.75" width="4.90" height="1.30" fill="#111"/>
<text x="47.12" y="544.99" font-size="10.56" stroke="#000000" stroke-width="0.25" fill="#000000" textLength="26.54" lengthAdjust="spacingAndGlyphs">0.05</text>
<rect x="73.60" y="516.15" width="4.90" height="1.30" fill="#111"/>
<text x="47.12" y="520.39" font-size="10.56" stroke="#000000" stroke-width="0.25" fill="#000000" textLength="26.47" lengthAdjust="spacingAndGlyphs">0.10</text>
<rect x="73.60" y="491.55" width="4.90" height="1.30" fill="#111"/>
<text x="47.12" y="495.79" font-size="10.56" stroke="#000000" stroke-width="0.25" fill="#000000" textLength="26.54" lengthAdjust="spacingAndGlyphs">0.15</text>
<rect x="73.60" y="466.95" width="4.90" height="1.30" fill="#111"/>
<text x="47.12" y="471.19" font-size="10.56" stroke="#000000" stroke-width="0.25" fill="#000000" textLength="26.47" lengthAdjust="spacingAndGlyphs">0.20</text>
<rect x="73.60" y="442.35" width="4.90" height="1.30" fill="#111"/>
<text x="47.12" y="446.59" font-size="10.56" stroke="#000000" stroke-width="0.25" fill="#000000" textLength="26.54" lengthAdjust="spacingAndGlyphs">0.25</text>
<rect x="93.90" y="566.00" width="1.40" height="4.20" fill="#111"/>
<rect x="125.00" y="566.00" width="1.40" height="4.20" fill="#111"/>
<rect x="156.10" y="566.00" width="1.40" height="4.20" fill="#111"/>
<rect x="187.20" y="566.00" width="1.40" height="4.20" fill="#111"/>
<rect x="218.30" y="566.00" width="1.40" height="4.20" fill="#111"/>
<text x="80.06" y="580.30" font-size="10.42" stroke="#000000" stroke-width="0.25" fill="#000000" textLength="27.03" lengthAdjust="spacingAndGlyphs">-400</text>
<text x="111.75" y="580.30" font-size="10.42" stroke="#000000" stroke-width="0.25" fill="#000000" textLength="27.66" lengthAdjust="spacingAndGlyphs">-200</text>
<text x="152.72" y="580.30" font-size="10.42" stroke="#000000" stroke-width="0.25" fill="#000000" textLength="7.57" lengthAdjust="spacingAndGlyphs">0</text>
<text x="176.07" y="580.30" font-size="10.42" stroke="#000000" stroke-width="0.25" fill="#000000" textLength="21.12" lengthAdjust="spacingAndGlyphs">200</text>
<text x="208.35" y="580.30" font-size="10.42" stroke="#000000" stroke-width="0.25" fill="#000000" textLength="20.52" lengthAdjust="spacingAndGlyphs">400</text>
<text x="52.70" y="595.93" font-size="10.80" stroke="#000000" stroke-width="0.25" fill="#000000" textLength="195.95" lengthAdjust="spacingAndGlyphs">Distance from Mef2c-peak summits</text>
<g transform="rotate(-90)"><text x="-559.14" y="32.50" font-size="12.83" stroke="#000000" stroke-width="0.25" fill="#000000" textLength="103.73" lengthAdjust="spacingAndGlyphs">Frequency of peaks</text></g>
<path d="M79.05,566.00 L94.60,561.08 L110.15,556.16 L125.70,551.24 L141.25,516.80 L156.80,467.60 L172.35,521.72 L187.90,556.16 L203.45,561.08 L219.00,561.08 L234.55,566.00" fill="none" stroke="#1c2a9e" stroke-width="1.7" stroke-linejoin="miter"/>
<path d="M79.05,561.08 L94.60,561.08 L110.15,561.08 L125.70,556.16 L141.25,509.42 L156.80,477.44 L172.35,524.18 L187.90,556.16 L203.45,556.16 L219.00,561.08 L234.55,561.08" fill="none" stroke="#7aa6ea" stroke-width="1.3" stroke-linejoin="miter"/>
<path d="M79.05,566.00 L94.60,561.08 L110.15,561.08 L125.70,561.08 L141.25,529.10 L156.80,502.04 L172.35,531.56 L187.90,561.08 L203.45,561.08 L219.00,561.08 L234.55,566.00" fill="none" stroke="#c8202e" stroke-width="1.5" stroke-linejoin="miter"/>
<path d="M110.15,566.00 L125.70,561.08 L141.25,556.16 L156.80,521.72 L172.35,551.24 L187.90,566.00" fill="none" stroke="#5a9a66" stroke-width="1.3" stroke-linejoin="miter"/>
<text x="219.16" y="452.16" font-size="8.77" stroke="#000000" stroke-width="0.25" fill="#000000" textLength="40.64" lengthAdjust="spacingAndGlyphs">p-value</text>
<text x="174.63" y="467.36" font-size="13.57" stroke="#24308c" stroke-width="0.25" fill="#24308c" textLength="33.35" lengthAdjust="spacingAndGlyphs">Pax5</text>
<text x="174.50" y="481.97" font-size="13.33" stroke="#8ab2e4" stroke-width="0.25" fill="#8ab2e4" textLength="39.49" lengthAdjust="spacingAndGlyphs">Ikaros</text>
<text x="174.68" y="495.77" font-size="13.24" stroke="#c83444" stroke-width="0.25" fill="#c83444" textLength="24.84" lengthAdjust="spacingAndGlyphs">E2a</text>
<text x="174.71" y="510.06" font-size="14.00" stroke="#5e9c6e" stroke-width="0.25" fill="#5e9c6e" textLength="39.41" lengthAdjust="spacingAndGlyphs">Runx1</text>
<text x="222.80" y="465.69" font-size="11.14" stroke="#000000" stroke-width="0.25" fill="#000000" textLength="38.99" lengthAdjust="spacingAndGlyphs">e-1455</text>
<text x="222.80" y="480.19" font-size="10.56" stroke="#000000" stroke-width="0.25" fill="#000000" textLength="38.92" lengthAdjust="spacingAndGlyphs">e-1480</text>
<text x="222.79" y="494.59" font-size="10.99" stroke="#000000" stroke-width="0.25" fill="#000000" textLength="39.02" lengthAdjust="spacingAndGlyphs">e-1128</text>
<text x="222.80" y="509.00" font-size="10.42" stroke="#000000" stroke-width="0.25" fill="#000000" textLength="35.22" lengthAdjust="spacingAndGlyphs">e−210</text>
<text x="280.94" y="255.91" font-size="19.30" font-weight="bold" stroke="#000" stroke-width="0.25" fill="#000" textLength="13.78" lengthAdjust="spacingAndGlyphs">C</text>
<text x="336.28" y="282.97" font-size="13.06" stroke="#000000" stroke-width="0.25" fill="#000000" textLength="72.19" lengthAdjust="spacingAndGlyphs">Mef2c motif</text>
<rect x="299.20" y="286.50" width="1.00" height="50.90" fill="#808080"/><rect x="297.70" y="286.10" width="2.00" height="0.80" fill="#808080"/><rect x="297.70" y="310.95" width="2.00" height="0.80" fill="#808080"/><rect x="294.30" y="285.90" width="1.80" height="1.90" fill="#555"/><rect x="294.70" y="310.95" width="1.20" height="2.00" fill="#555"/><rect x="294.30" y="336.00" width="2.00" height="1.80" fill="#666"/><rect x="290.10" y="309.15" width="2.00" height="6.20" fill="#666"/><rect x="305.00" y="336.60" width="2.40" height="1.60" fill="#a0a0a0"/><rect x="316.75" y="336.60" width="2.40" height="1.60" fill="#a0a0a0"/><rect x="328.50" y="336.60" width="2.40" height="1.60" fill="#a0a0a0"/><rect x="340.25" y="336.60" width="2.40" height="1.60" fill="#a0a0a0"/><rect x="352.00" y="336.60" width="2.40" height="1.60" fill="#a0a0a0"/><rect x="363.75" y="336.60" width="2.40" height="1.60" fill="#a0a0a0"/><rect x="375.50" y="336.60" width="2.40" height="1.60" fill="#a0a0a0"/><rect x="387.25" y="336.60" width="2.40" height="1.60" fill="#a0a0a0"/><rect x="399.00" y="336.60" width="2.40" height="1.60" fill="#a0a0a0"/><rect x="410.75" y="336.60" width="2.40" height="1.60" fill="#a0a0a0"/><rect x="422.50" y="336.60" width="2.40" height="1.60" fill="#a0a0a0"/><rect x="434.25" y="336.60" width="2.40" height="1.60" fill="#a0a0a0"/><rect x="446.00" y="336.60" width="2.40" height="1.60" fill="#a0a0a0"/><rect x="457.75" y="336.60" width="2.40" height="1.60" fill="#a0a0a0"/><rect x="469.50" y="336.60" width="2.40" height="1.60" fill="#a0a0a0"/>
<text transform="matrix(0.1630 0 0 0.0058 300.29 334.60)" font-size="100" font-weight="bold" fill="#b3122a">A</text><text transform="matrix(0.1618 0 0 0.0085 300.05 334.19)" font-size="100" font-weight="bold" fill="#eeae32">G</text>
<text transform="matrix(0.1679 0 0 0.0042 311.78 334.60)" font-size="100" font-weight="bold" fill="#1c1ccc">C</text><text transform="matrix(0.1630 0 0 0.0087 312.04 334.30)" font-size="100" font-weight="bold" fill="#b3122a">A</text><text transform="matrix(0.1849 0 0 0.0072 312.27 333.70)" font-size="100" font-weight="bold" fill="#3e8a2c">T</text><text transform="matrix(0.1618 0 0 0.0127 311.80 333.19)" font-size="100" font-weight="bold" fill="#eeae32">G</text>
<text transform="matrix(0.1679 0 0 0.0056 323.53 334.59)" font-size="100" font-weight="bold" fill="#1c1ccc">C</text><text transform="matrix(0.1630 0 0 0.0116 323.79 334.20)" font-size="100" font-weight="bold" fill="#b3122a">A</text><text transform="matrix(0.1618 0 0 0.0141 323.55 333.39)" font-size="100" font-weight="bold" fill="#eeae32">G</text><text transform="matrix(0.1849 0 0 0.0232 324.02 332.40)" font-size="100" font-weight="bold" fill="#3e8a2c">T</text>
<text transform="matrix(0.1630 0 0 0.0174 335.54 334.60)" font-size="100" font-weight="bold" fill="#b3122a">A</text><text transform="matrix(0.1618 0 0 0.0254 335.30 333.37)" font-size="100" font-weight="bold" fill="#eeae32">G</text><text transform="matrix(0.1849 0 0 0.0551 335.77 331.60)" font-size="100" font-weight="bold" fill="#3e8a2c">T</text>
<text transform="matrix(0.1849 0 0 0.0870 347.52 334.60)" font-size="100" font-weight="bold" fill="#3e8a2c">T</text><text transform="matrix(0.1679 0 0 0.1634 347.03 328.44)" font-size="100" font-weight="bold" fill="#1c1ccc">C</text>
<text transform="matrix(0.1679 0 0 0.0099 358.78 334.59)" font-size="100" font-weight="bold" fill="#1c1ccc">C</text><text transform="matrix(0.1849 0 0 0.6029 359.27 333.90)" font-size="100" font-weight="bold" fill="#3e8a2c">T</text>
<text transform="matrix(0.1849 0 0 0.0087 371.02 334.60)" font-size="100" font-weight="bold" fill="#3e8a2c">T</text><text transform="matrix(0.1630 0 0 0.4565 370.79 334.00)" font-size="100" font-weight="bold" fill="#b3122a">A</text>
<text transform="matrix(0.1630 0 0 0.0652 382.54 334.60)" font-size="100" font-weight="bold" fill="#b3122a">A</text><text transform="matrix(0.1849 0 0 0.4580 382.77 330.10)" font-size="100" font-weight="bold" fill="#3e8a2c">T</text>
<text transform="matrix(0.1630 0 0 0.0638 394.29 334.60)" font-size="100" font-weight="bold" fill="#b3122a">A</text><text transform="matrix(0.1849 0 0 0.4304 394.52 330.20)" font-size="100" font-weight="bold" fill="#3e8a2c">T</text>
<text transform="matrix(0.1679 0 0 0.0451 405.78 334.55)" font-size="100" font-weight="bold" fill="#1c1ccc">C</text><text transform="matrix(0.1849 0 0 0.4725 406.27 331.40)" font-size="100" font-weight="bold" fill="#3e8a2c">T</text>
<text transform="matrix(0.1630 0 0 0.0667 417.79 334.60)" font-size="100" font-weight="bold" fill="#b3122a">A</text><text transform="matrix(0.1849 0 0 0.2261 418.02 330.00)" font-size="100" font-weight="bold" fill="#3e8a2c">T</text>
<text transform="matrix(0.1630 0 0 0.0594 429.54 334.60)" font-size="100" font-weight="bold" fill="#b3122a">A</text><text transform="matrix(0.1849 0 0 0.1957 429.77 330.50)" font-size="100" font-weight="bold" fill="#3e8a2c">T</text>
<text transform="matrix(0.1849 0 0 0.0174 441.52 334.60)" font-size="100" font-weight="bold" fill="#3e8a2c">T</text><text transform="matrix(0.1618 0 0 0.1014 441.05 333.30)" font-size="100" font-weight="bold" fill="#eeae32">G</text><text transform="matrix(0.1630 0 0 0.1565 441.29 326.20)" font-size="100" font-weight="bold" fill="#b3122a">A</text>
<text transform="matrix(0.1630 0 0 0.0232 453.04 334.60)" font-size="100" font-weight="bold" fill="#b3122a">A</text><text transform="matrix(0.1618 0 0 0.0958 452.80 332.90)" font-size="100" font-weight="bold" fill="#eeae32">G</text>
<text transform="matrix(0.1630 0 0 0.0116 464.79 334.60)" font-size="100" font-weight="bold" fill="#b3122a">A</text><text transform="matrix(0.1679 0 0 0.0338 464.53 333.77)" font-size="100" font-weight="bold" fill="#1c1ccc">C</text>
<text x="466.28" y="300.40" font-size="10.28" stroke="#000000" stroke-width="0.25" fill="#000000" textLength="48.59" lengthAdjust="spacingAndGlyphs">1.2e-360</text>
<text x="469.95" y="312.40" font-size="10.48" stroke="#000000" stroke-width="0.25" fill="#000000" textLength="44.88" lengthAdjust="spacingAndGlyphs">447/500</text>
<text x="478.90" y="323.90" font-size="10.14" stroke="#000000" stroke-width="0.25" fill="#000000" textLength="35.24" lengthAdjust="spacingAndGlyphs">89.4%</text>
<text x="331.39" y="360.88" font-size="11.56" stroke="#000000" stroke-width="0.25" fill="#000000" textLength="62.67" lengthAdjust="spacingAndGlyphs">Ebf1 motif</text>
<rect x="300.40" y="365.80" width="1.00" height="53.10" fill="#808080"/><rect x="298.90" y="365.40" width="2.00" height="0.80" fill="#808080"/><rect x="298.90" y="391.35" width="2.00" height="0.80" fill="#808080"/><rect x="295.50" y="365.20" width="1.80" height="1.90" fill="#555"/><rect x="295.90" y="391.35" width="1.20" height="2.00" fill="#555"/><rect x="295.50" y="417.50" width="2.00" height="1.80" fill="#666"/><rect x="291.30" y="389.55" width="2.00" height="6.20" fill="#666"/><rect x="306.30" y="418.30" width="2.40" height="1.60" fill="#a0a0a0"/><rect x="318.78" y="418.30" width="2.40" height="1.60" fill="#a0a0a0"/><rect x="331.26" y="418.30" width="2.40" height="1.60" fill="#a0a0a0"/><rect x="343.74" y="418.30" width="2.40" height="1.60" fill="#a0a0a0"/><rect x="356.22" y="418.30" width="2.40" height="1.60" fill="#a0a0a0"/><rect x="368.70" y="418.30" width="2.40" height="1.60" fill="#a0a0a0"/><rect x="381.18" y="418.30" width="2.40" height="1.60" fill="#a0a0a0"/><rect x="393.66" y="418.30" width="2.40" height="1.60" fill="#a0a0a0"/><rect x="406.14" y="418.30" width="2.40" height="1.60" fill="#a0a0a0"/><rect x="418.62" y="418.30" width="2.40" height="1.60" fill="#a0a0a0"/><rect x="431.10" y="418.30" width="2.40" height="1.60" fill="#a0a0a0"/>
<text transform="matrix(0.1786 0 0 0.0338 300.94 417.17)" font-size="100" font-weight="bold" fill="#1c1ccc">C</text><text transform="matrix(0.1966 0 0 0.0333 301.45 414.80)" font-size="100" font-weight="bold" fill="#3e8a2c">T</text><text transform="matrix(0.1721 0 0 0.0648 300.96 412.44)" font-size="100" font-weight="bold" fill="#eeae32">G</text>
<text transform="matrix(0.1786 0 0 0.0930 313.42 417.11)" font-size="100" font-weight="bold" fill="#1c1ccc">C</text><text transform="matrix(0.1966 0 0 0.3290 313.93 410.60)" font-size="100" font-weight="bold" fill="#3e8a2c">T</text>
<text transform="matrix(0.1786 0 0 0.7183 325.90 416.48)" font-size="100" font-weight="bold" fill="#1c1ccc">C</text>
<text transform="matrix(0.1966 0 0 0.0841 338.89 417.20)" font-size="100" font-weight="bold" fill="#3e8a2c">T</text><text transform="matrix(0.1786 0 0 0.2394 338.38 411.16)" font-size="100" font-weight="bold" fill="#1c1ccc">C</text>
<text transform="matrix(0.1966 0 0 0.0841 351.37 417.20)" font-size="100" font-weight="bold" fill="#3e8a2c">T</text><text transform="matrix(0.1786 0 0 0.2394 350.86 411.16)" font-size="100" font-weight="bold" fill="#1c1ccc">C</text>
<text transform="matrix(0.1966 0 0 0.0841 363.85 417.20)" font-size="100" font-weight="bold" fill="#3e8a2c">T</text><text transform="matrix(0.1786 0 0 0.2394 363.34 411.16)" font-size="100" font-weight="bold" fill="#1c1ccc">C</text>
<text transform="matrix(0.1733 0 0 0.1391 376.10 417.20)" font-size="100" font-weight="bold" fill="#b3122a">A</text><text transform="matrix(0.1966 0 0 0.1681 376.33 407.60)" font-size="100" font-weight="bold" fill="#3e8a2c">T</text>
<text transform="matrix(0.1721 0 0 0.7169 388.32 416.48)" font-size="100" font-weight="bold" fill="#eeae32">G</text>
<text transform="matrix(0.1733 0 0 0.1391 401.06 417.20)" font-size="100" font-weight="bold" fill="#b3122a">A</text><text transform="matrix(0.1721 0 0 0.3127 400.80 407.29)" font-size="100" font-weight="bold" fill="#eeae32">G</text>
<text transform="matrix(0.1721 0 0 0.7169 413.28 416.48)" font-size="100" font-weight="bold" fill="#eeae32">G</text>
<text transform="matrix(0.1786 0 0 0.0141 425.74 417.19)" font-size="100" font-weight="bold" fill="#1c1ccc">C</text><text transform="matrix(0.1721 0 0 0.0169 425.76 416.18)" font-size="100" font-weight="bold" fill="#eeae32">G</text><text transform="matrix(0.1733 0 0 0.1043 426.02 415.00)" font-size="100" font-weight="bold" fill="#b3122a">A</text>
<text x="467.80" y="383.79" font-size="10.85" stroke="#000000" stroke-width="0.25" fill="#000000" textLength="47.52" lengthAdjust="spacingAndGlyphs">1.1e-023</text>
<text x="447.94" y="395.90" font-size="10.48" stroke="#000000" stroke-width="0.25" fill="#000000" textLength="67.27" lengthAdjust="spacingAndGlyphs">91/500 sites</text>
<text x="481.20" y="407.19" font-size="10.85" stroke="#000000" stroke-width="0.25" fill="#000000" textLength="34.03" lengthAdjust="spacingAndGlyphs">18.2%</text>
<text x="321.48" y="449.79" font-size="11.29" stroke="#000000" stroke-width="0.25" fill="#000000" textLength="74.86" lengthAdjust="spacingAndGlyphs">Runx1 motif</text>
<rect x="300.40" y="454.00" width="1.00" height="52.40" fill="#808080"/><rect x="298.90" y="453.60" width="2.00" height="0.80" fill="#808080"/><rect x="298.90" y="479.20" width="2.00" height="0.80" fill="#808080"/><rect x="295.50" y="453.40" width="1.80" height="1.90" fill="#555"/><rect x="295.90" y="479.20" width="1.20" height="2.00" fill="#555"/><rect x="295.50" y="505.00" width="2.00" height="1.80" fill="#666"/><rect x="291.30" y="477.40" width="2.00" height="6.20" fill="#666"/><rect x="306.90" y="505.60" width="2.40" height="1.60" fill="#a0a0a0"/><rect x="319.75" y="505.60" width="2.40" height="1.60" fill="#a0a0a0"/><rect x="332.60" y="505.60" width="2.40" height="1.60" fill="#a0a0a0"/><rect x="345.45" y="505.60" width="2.40" height="1.60" fill="#a0a0a0"/><rect x="358.30" y="505.60" width="2.40" height="1.60" fill="#a0a0a0"/><rect x="371.15" y="505.60" width="2.40" height="1.60" fill="#a0a0a0"/><rect x="384.00" y="505.60" width="2.40" height="1.60" fill="#a0a0a0"/><rect x="396.85" y="505.60" width="2.40" height="1.60" fill="#a0a0a0"/><rect x="409.70" y="505.60" width="2.40" height="1.60" fill="#a0a0a0"/><rect x="422.55" y="505.60" width="2.40" height="1.60" fill="#a0a0a0"/>
<text transform="matrix(0.1807 0 0 0.0145 301.55 503.50)" font-size="100" font-weight="bold" fill="#b3122a">A</text><text transform="matrix(0.2050 0 0 0.0580 301.79 502.50)" font-size="100" font-weight="bold" fill="#3e8a2c">T</text><text transform="matrix(0.1863 0 0 0.0761 301.25 498.42)" font-size="100" font-weight="bold" fill="#1c1ccc">C</text>
<text transform="matrix(0.1807 0 0 0.0174 314.40 503.50)" font-size="100" font-weight="bold" fill="#b3122a">A</text><text transform="matrix(0.1794 0 0 0.0239 314.13 502.28)" font-size="100" font-weight="bold" fill="#eeae32">G</text><text transform="matrix(0.2050 0 0 0.5188 314.64 500.60)" font-size="100" font-weight="bold" fill="#3e8a2c">T</text>
<text transform="matrix(0.1794 0 0 0.6775 326.98 502.82)" font-size="100" font-weight="bold" fill="#eeae32">G</text>
<text transform="matrix(0.1807 0 0 0.0145 340.10 503.50)" font-size="100" font-weight="bold" fill="#b3122a">A</text><text transform="matrix(0.1794 0 0 0.0563 339.83 502.44)" font-size="100" font-weight="bold" fill="#eeae32">G</text><text transform="matrix(0.2050 0 0 0.3522 340.34 498.50)" font-size="100" font-weight="bold" fill="#3e8a2c">T</text>
<text transform="matrix(0.1794 0 0 0.6775 352.68 502.82)" font-size="100" font-weight="bold" fill="#eeae32">G</text>
<text transform="matrix(0.1794 0 0 0.6775 365.53 502.82)" font-size="100" font-weight="bold" fill="#eeae32">G</text>
<text transform="matrix(0.1807 0 0 0.0145 378.65 503.50)" font-size="100" font-weight="bold" fill="#b3122a">A</text><text transform="matrix(0.1863 0 0 0.0648 378.35 502.44)" font-size="100" font-weight="bold" fill="#1c1ccc">C</text><text transform="matrix(0.2050 0 0 0.3507 378.89 497.90)" font-size="100" font-weight="bold" fill="#3e8a2c">T</text>
<text transform="matrix(0.1807 0 0 0.0232 391.50 503.50)" font-size="100" font-weight="bold" fill="#b3122a">A</text><text transform="matrix(0.1863 0 0 0.0479 391.20 501.85)" font-size="100" font-weight="bold" fill="#1c1ccc">C</text><text transform="matrix(0.2050 0 0 0.4681 391.74 498.50)" font-size="100" font-weight="bold" fill="#3e8a2c">T</text>
<text transform="matrix(0.1794 0 0 0.0169 404.08 503.48)" font-size="100" font-weight="bold" fill="#eeae32">G</text><text transform="matrix(0.1863 0 0 0.0254 404.05 502.27)" font-size="100" font-weight="bold" fill="#1c1ccc">C</text><text transform="matrix(0.1807 0 0 0.0290 404.35 500.50)" font-size="100" font-weight="bold" fill="#b3122a">A</text><text transform="matrix(0.2050 0 0 0.3522 404.59 498.50)" font-size="100" font-weight="bold" fill="#3e8a2c">T</text>
<text transform="matrix(0.1794 0 0 0.0141 416.93 503.49)" font-size="100" font-weight="bold" fill="#eeae32">G</text><text transform="matrix(0.1863 0 0 0.0282 416.90 502.47)" font-size="100" font-weight="bold" fill="#1c1ccc">C</text><text transform="matrix(0.1807 0 0 0.0217 417.20 500.50)" font-size="100" font-weight="bold" fill="#b3122a">A</text><text transform="matrix(0.2050 0 0 0.0855 417.44 499.00)" font-size="100" font-weight="bold" fill="#3e8a2c">T</text>
<text x="465.89" y="467.60" font-size="10.00" stroke="#000000" stroke-width="0.25" fill="#000000" textLength="48.07" lengthAdjust="spacingAndGlyphs">2.9e-030</text>
<text x="440.78" y="480.30" font-size="10.48" stroke="#000000" stroke-width="0.25" fill="#000000" textLength="73.14" lengthAdjust="spacingAndGlyphs">101/500 sites</text>
<text x="479.39" y="491.79" font-size="10.70" stroke="#000000" stroke-width="0.25" fill="#000000" textLength="34.54" lengthAdjust="spacingAndGlyphs">20.2%</text>
<text x="315.88" y="536.17" font-size="12.52" stroke="#000000" stroke-width="0.25" fill="#000000" textLength="96.06" lengthAdjust="spacingAndGlyphs">Ets/Ikaros motif</text>
<rect x="300.40" y="541.60" width="1.00" height="52.00" fill="#808080"/><rect x="298.90" y="541.20" width="2.00" height="0.80" fill="#808080"/><rect x="298.90" y="566.60" width="2.00" height="0.80" fill="#808080"/><rect x="295.50" y="541.00" width="1.80" height="1.90" fill="#555"/><rect x="295.90" y="566.60" width="1.20" height="2.00" fill="#555"/><rect x="295.50" y="592.20" width="2.00" height="1.80" fill="#666"/><rect x="291.30" y="564.80" width="2.00" height="6.20" fill="#666"/><rect x="306.40" y="592.80" width="2.40" height="1.60" fill="#a0a0a0"/><rect x="319.80" y="592.80" width="2.40" height="1.60" fill="#a0a0a0"/><rect x="333.20" y="592.80" width="2.40" height="1.60" fill="#a0a0a0"/><rect x="346.60" y="592.80" width="2.40" height="1.60" fill="#a0a0a0"/><rect x="360.00" y="592.80" width="2.40" height="1.60" fill="#a0a0a0"/><rect x="373.40" y="592.80" width="2.40" height="1.60" fill="#a0a0a0"/><rect x="386.80" y="592.80" width="2.40" height="1.60" fill="#a0a0a0"/><rect x="400.20" y="592.80" width="2.40" height="1.60" fill="#a0a0a0"/>
<text transform="matrix(0.2151 0 0 0.0072 300.98 592.00)" font-size="100" font-weight="bold" fill="#3e8a2c">T</text><text transform="matrix(0.1954 0 0 0.0070 300.42 591.49)" font-size="100" font-weight="bold" fill="#1c1ccc">C</text>
<text transform="matrix(0.1882 0 0 0.1620 313.85 591.84)" font-size="100" font-weight="bold" fill="#eeae32">G</text><text transform="matrix(0.1954 0 0 0.1789 313.82 580.32)" font-size="100" font-weight="bold" fill="#1c1ccc">C</text>
<text transform="matrix(0.1896 0 0 0.7304 327.53 592.00)" font-size="100" font-weight="bold" fill="#b3122a">A</text>
<text transform="matrix(0.1882 0 0 0.7000 340.65 591.30)" font-size="100" font-weight="bold" fill="#eeae32">G</text>
<text transform="matrix(0.1882 0 0 0.7000 354.05 591.30)" font-size="100" font-weight="bold" fill="#eeae32">G</text>
<text transform="matrix(0.1896 0 0 0.7203 367.73 592.00)" font-size="100" font-weight="bold" fill="#b3122a">A</text>
<text transform="matrix(0.1896 0 0 0.7203 381.13 592.00)" font-size="100" font-weight="bold" fill="#b3122a">A</text>
<text transform="matrix(0.1896 0 0 0.1348 394.53 592.00)" font-size="100" font-weight="bold" fill="#b3122a">A</text><text transform="matrix(0.1882 0 0 0.1789 394.25 582.52)" font-size="100" font-weight="bold" fill="#eeae32">G</text>
<text x="464.78" y="559.09" font-size="10.70" stroke="#000000" stroke-width="0.25" fill="#000000" textLength="49.32" lengthAdjust="spacingAndGlyphs">6.9e-017</text>
<text x="440.27" y="571.28" font-size="11.56" stroke="#000000" stroke-width="0.25" fill="#000000" textLength="73.65" lengthAdjust="spacingAndGlyphs">136/500 sites</text>
<text x="479.39" y="582.65" font-size="10.92" stroke="#000000" stroke-width="0.25" fill="#000000" textLength="34.54" lengthAdjust="spacingAndGlyphs">27.2%</text>
</g></svg>
</body></html>
